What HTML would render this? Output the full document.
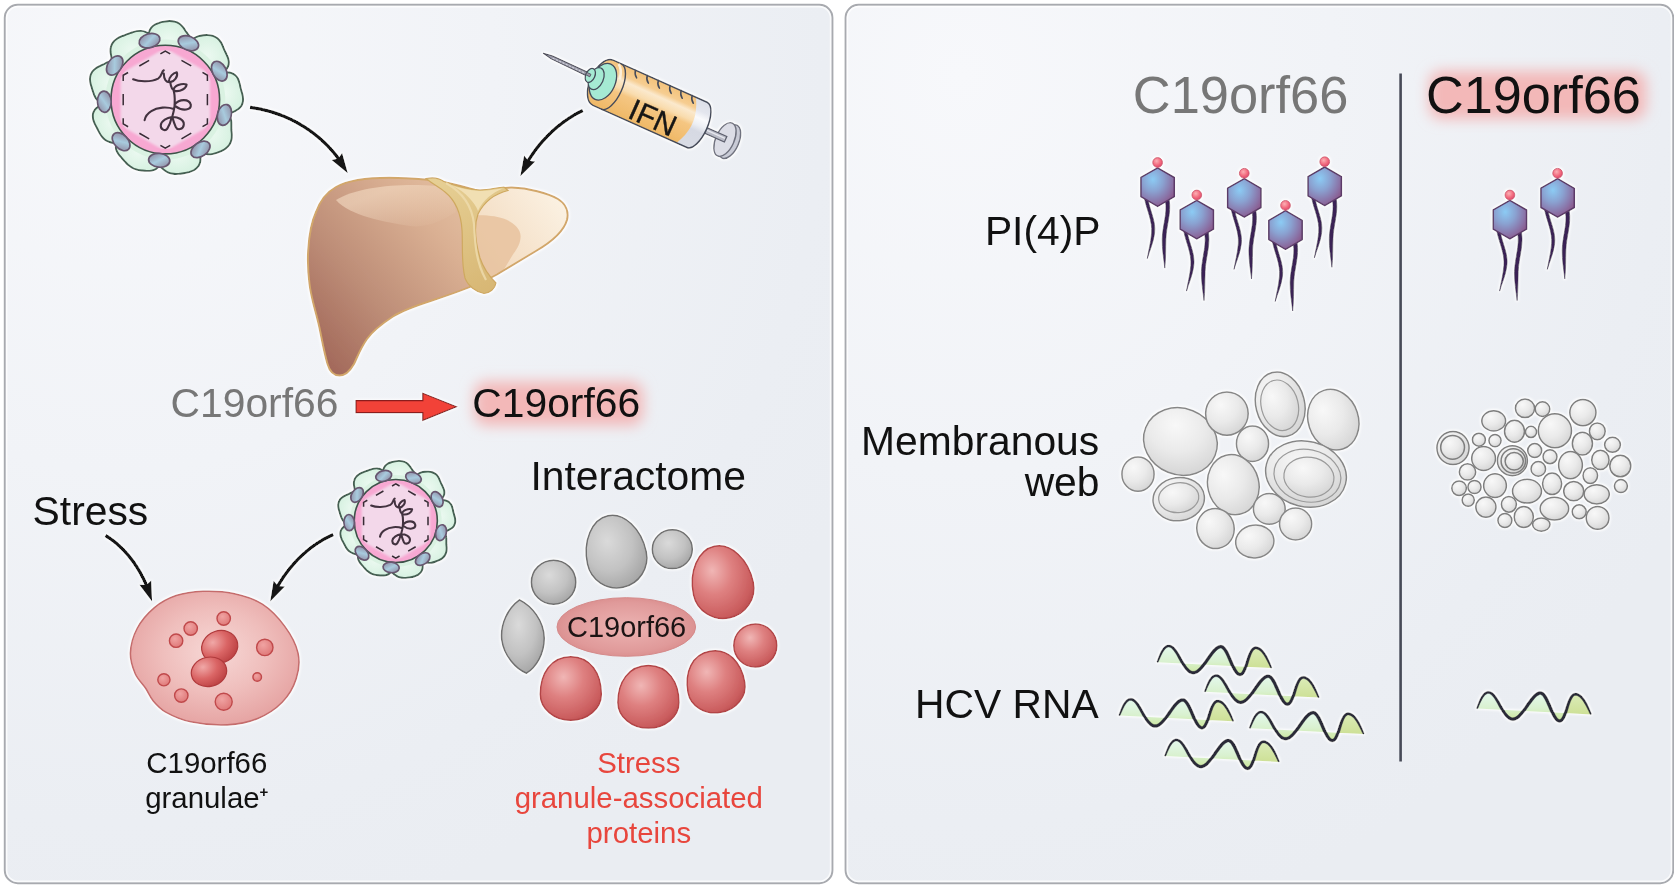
<!DOCTYPE html>
<html lang="en"><head><meta charset="utf-8"><title>C19orf66 graphical abstract</title>
<style>html,body{margin:0;padding:0;background:#fff;}body{width:1674px;height:886px;overflow:hidden;}svg{display:block;}svg text{opacity:0.999;}</style></head>
<body>
<svg width="1674" height="886" viewBox="0 0 1674 886" font-family="'Liberation Sans', Arial, Helvetica, sans-serif">
<defs>
<radialGradient id="panelL" cx="0.14" cy="0.08" r="1.0">
  <stop offset="0" stop-color="#f7f8fb"/><stop offset="0.45" stop-color="#f1f3f7"/><stop offset="0.85" stop-color="#ebeef3"/><stop offset="1" stop-color="#eaedf2"/>
</radialGradient>
<radialGradient id="panelR" cx="0.14" cy="0.08" r="1.0">
  <stop offset="0" stop-color="#f7f8fb"/><stop offset="0.45" stop-color="#f1f3f7"/><stop offset="0.85" stop-color="#ebeef3"/><stop offset="1" stop-color="#eaedf2"/>
</radialGradient>
<filter id="blur6" x="-20%" y="-40%" width="140%" height="180%"><feGaussianBlur stdDeviation="5"/></filter>
<filter id="blur7" x="-20%" y="-60%" width="140%" height="220%"><feGaussianBlur stdDeviation="7"/></filter>
<filter id="blur1" x="-10%" y="-10%" width="120%" height="120%"><feGaussianBlur stdDeviation="1.2"/></filter>
<filter id="blur4" x="-20%" y="-40%" width="140%" height="180%"><feGaussianBlur stdDeviation="4"/></filter>
<filter id="glowS" x="-20%" y="-20%" width="140%" height="140%">
  <feMorphology in="SourceAlpha" operator="dilate" radius="0.8" result="d"/>
  <feGaussianBlur in="d" stdDeviation="1.1" result="b"/>
  <feFlood flood-color="#ffffff" flood-opacity="0.8"/><feComposite in2="b" operator="in" result="g"/>
  <feMerge><feMergeNode in="g"/><feMergeNode in="SourceGraphic"/></feMerge>
</filter>
<filter id="glow" x="-30%" y="-30%" width="160%" height="160%">
  <feMorphology in="SourceAlpha" operator="dilate" radius="1.4" result="d"/>
  <feGaussianBlur in="d" stdDeviation="1.1" result="b"/>
  <feFlood flood-color="#ffffff" flood-opacity="1"/><feComposite in2="b" operator="in" result="g"/>
  <feMerge><feMergeNode in="g"/><feMergeNode in="SourceGraphic"/></feMerge>
</filter>


<radialGradient id="lobeG" cx="0.5" cy="0.5" r="0.6">
  <stop offset="0" stop-color="#ecf9f1"/><stop offset="1" stop-color="#d3f0de"/>
</radialGradient>
<linearGradient id="spikeG" x1="0" y1="0" x2="1" y2="1">
  <stop offset="0" stop-color="#8c8098"/><stop offset="0.5" stop-color="#a8cbde"/><stop offset="1" stop-color="#8a7e96"/>
</linearGradient>
<clipPath id="virClip"><circle r="49.4"/></clipPath>
<marker id="ah" viewBox="0 0 20 14" refX="17" refY="7" markerWidth="20" markerHeight="14" markerUnits="userSpaceOnUse" orient="auto">
  <path d="M0 0 L20 7 L0 14 Q5.5 7 0 0 Z" fill="#141414"/>
</marker>


<linearGradient id="liverG" gradientUnits="userSpaceOnUse" x1="520" y1="190" x2="320" y2="360">
  <stop offset="0" stop-color="#ecccae"/><stop offset="0.35" stop-color="#dab093"/>
  <stop offset="0.7" stop-color="#bd8d77"/><stop offset="1" stop-color="#a2685a"/>
</linearGradient>
<linearGradient id="liverHi" gradientUnits="userSpaceOnUse" x1="400" y1="185" x2="420" y2="235">
  <stop offset="0" stop-color="#f4dcc4" stop-opacity="0.6"/><stop offset="1" stop-color="#f4dcc4" stop-opacity="0"/>
</linearGradient>
<linearGradient id="lobeR" gradientUnits="userSpaceOnUse" x1="480" y1="260" x2="560" y2="200">
  <stop offset="0" stop-color="#f2d9bd"/><stop offset="1" stop-color="#fbf1e2"/>
</linearGradient>
<linearGradient id="ligG" gradientUnits="userSpaceOnUse" x1="440" y1="180" x2="500" y2="290">
  <stop offset="0" stop-color="#e6cf94"/><stop offset="1" stop-color="#d7b673"/>
</linearGradient>
<clipPath id="liverClip"><path id="liverPath" d="M336 187 C352 178 385 176 425 179.5 C445 181 462 186 477 190.5 C490 192.5 500 187 512 187.5 C528 188 548 193 558 199 C566 204 569 212 567 220 C563 234 548 244 536 251 C522 259.5 508 268 497 274.5 C480 284 452 294 432 300.5 C415 306 403 310 393 316.5 C380 325 372 332 367 339 C360 349 357 358 354 364 C350 371 345 375.5 339.5 375.5 C333 375.5 329.5 371 327.5 364 C324 352 322 340 319.5 328 C316 312 311 298 309.5 284 C308 272 307.5 261 308.2 250 C309 236 311 223 316 212 C320 201 327 192 336 187 Z"/></clipPath>


<linearGradient id="syrO" x1="0" y1="0" x2="0" y2="1">
  <stop offset="0" stop-color="#f3c27a"/><stop offset="0.2" stop-color="#f6cd91"/>
  <stop offset="0.30" stop-color="#fbe9cd"/><stop offset="0.46" stop-color="#f9dcae"/>
  <stop offset="0.56" stop-color="#f5c682"/><stop offset="1" stop-color="#efb866"/>
</linearGradient>
<linearGradient id="syrC" x1="0" y1="0" x2="0" y2="1">
  <stop offset="0" stop-color="#dcdfe8"/><stop offset="0.22" stop-color="#e4e6ee"/>
  <stop offset="0.36" stop-color="#fafafc"/><stop offset="0.5" stop-color="#eceef3"/>
  <stop offset="0.62" stop-color="#d6d9e3"/><stop offset="1" stop-color="#d9dce5"/>
</linearGradient>
<clipPath id="barrelClip"><path d="M0 -24.8 L103 -24.8 A10.5 24.8 0 0 1 103 24.8 L0 24.8 A13 24.8 0 0 1 0 -24.8 Z"/></clipPath>


<radialGradient id="cellG" cx="0.5" cy="0.45" r="0.62">
  <stop offset="0" stop-color="#f7d8d6"/><stop offset="0.5" stop-color="#efbebc"/><stop offset="0.88" stop-color="#e6a5a4"/><stop offset="1" stop-color="#df9797"/>
</radialGradient>
<radialGradient id="granG" cx="0.36" cy="0.3" r="0.8">
  <stop offset="0" stop-color="#f0a8a7"/><stop offset="0.5" stop-color="#da6565"/><stop offset="1" stop-color="#b83c3e"/>
</radialGradient>
<radialGradient id="granS" cx="0.4" cy="0.35" r="0.75">
  <stop offset="0" stop-color="#f0a3a2"/><stop offset="1" stop-color="#dd7474"/>
</radialGradient>


<radialGradient id="grayB" cx="0.4" cy="0.34" r="0.75">
  <stop offset="0" stop-color="#dadada"/><stop offset="0.55" stop-color="#c2c2c2"/><stop offset="1" stop-color="#a0a0a0"/>
</radialGradient>
<radialGradient id="redB" cx="0.38" cy="0.32" r="0.78">
  <stop offset="0" stop-color="#f0b6b5"/><stop offset="0.42" stop-color="#de8080"/><stop offset="0.82" stop-color="#cb5e5f"/><stop offset="1" stop-color="#b84a4c"/>
</radialGradient>
<radialGradient id="midB" cx="0.5" cy="0.5" r="0.6">
  <stop offset="0" stop-color="#ecb3b2"/><stop offset="0.7" stop-color="#e09a9a"/><stop offset="1" stop-color="#d68686"/>
</radialGradient>


<radialGradient id="hexG" cx="0.36" cy="0.3" r="0.78">
  <stop offset="0" stop-color="#8ccbf4"/><stop offset="0.4" stop-color="#8aa2d1"/><stop offset="0.75" stop-color="#8a74a8"/><stop offset="1" stop-color="#8a5486"/>
</radialGradient>
<radialGradient id="ballG" cx="0.4" cy="0.35" r="0.7">
  <stop offset="0" stop-color="#fbb0b4"/><stop offset="0.6" stop-color="#f2697d"/><stop offset="1" stop-color="#d6466a"/>
</radialGradient>


<radialGradient id="vesG" cx="0.36" cy="0.3" r="0.8">
  <stop offset="0" stop-color="#f8f8f8"/><stop offset="0.5" stop-color="#eaeaea"/><stop offset="1" stop-color="#d2d2d2"/>
</radialGradient>


<linearGradient id="waveG" x1="0" y1="0" x2="0" y2="1">
  <stop offset="0" stop-color="#e4f8ee"/><stop offset="0.55" stop-color="#d9f1cf"/><stop offset="1" stop-color="#cbe69a"/>
</linearGradient>
<linearGradient id="waveG3" x1="0" y1="0" x2="0" y2="1">
  <stop offset="0" stop-color="#dcedbb"/><stop offset="1" stop-color="#c9dc8b"/>
</linearGradient>

<clipPath id="wclipA"><path d="M-2 -20 L88 -20 L88 16 L-2 16 Z"/></clipPath>
<clipPath id="wclipB"><path d="M88 -20 L118 -20 L118 16 L88 16 Z"/></clipPath></defs>
<rect x="4.8" y="4.8" width="827.6" height="878.4" rx="13" ry="13" fill="url(#panelL)" stroke="#a8aaaf" stroke-width="2"/>
<rect x="6.6" y="6.6" width="824" height="874.8" rx="11.5" ry="11.5" fill="none" stroke="#ffffff" stroke-opacity="0.75" stroke-width="1.6"/>
<rect x="845.6" y="4.8" width="827.6" height="878.4" rx="13" ry="13" fill="url(#panelR)" stroke="#a8aaaf" stroke-width="2"/>
<rect x="847.4" y="6.6" width="824" height="874.8" rx="11.5" ry="11.5" fill="none" stroke="#ffffff" stroke-opacity="0.75" stroke-width="1.6"/>
<g filter="url(#glow)"><g transform="translate(165.3 99.6) scale(1) rotate(0)">
<path d="M27.3 -57.7 C27.5 -56.2 27.4 -54.5 26.9 -53.1 C26.5 -51.7 25.4 -50.3 24.3 -49.2 C23.2 -48 21.8 -47 20.5 -46.1 C19.1 -45.2 17.8 -44.4 16.4 -43.6 C15 -42.9 13.5 -42.1 12 -41.6 C10.5 -41.1 8.8 -40.7 7.2 -40.5 C5.5 -40.3 3.8 -40.4 2.1 -40.6 C0.5 -40.8 -1.1 -41.2 -2.7 -41.6 C-4.3 -41.9 -5.9 -42.3 -7.5 -42.8 C-9.1 -43.2 -10.9 -43.6 -12.5 -44.4 C-14.1 -45.1 -15.8 -46 -17 -47.1 C-18.2 -48.3 -19.2 -49.8 -19.7 -51.2 C-20.1 -52.7 -20 -54.4 -19.9 -55.8 C-19.7 -57.3 -19.1 -58.7 -18.7 -60.1 C-18.3 -61.4 -17.8 -62.6 -17.4 -63.9 C-17 -65.2 -16.8 -66.5 -16.2 -67.8 C-15.7 -69.1 -15.1 -70.5 -14.2 -71.7 C-13.3 -72.8 -12.1 -73.9 -10.7 -74.8 C-9.4 -75.7 -7.7 -76.3 -6.1 -76.8 C-4.5 -77.4 -2.8 -77.7 -1.1 -78 C0.6 -78.3 2.4 -78.6 4.1 -78.6 C5.9 -78.6 7.8 -78.5 9.5 -78 C11.1 -77.6 12.8 -76.8 14.2 -75.9 C15.6 -75 16.7 -73.7 17.7 -72.5 C18.7 -71.4 19.3 -70.1 20.1 -68.9 C21 -67.7 21.7 -66.7 22.6 -65.5 C23.5 -64.4 24.6 -63.2 25.3 -61.9 C26.1 -60.6 27 -59.1 27.3 -57.7 Z" fill="url(#lobeG)" stroke="#456052" stroke-width="1.9" stroke-linejoin="round"/>
<path d="M57.8 -27.6 C56.6 -26.7 55.2 -26 53.9 -25.3 C52.5 -24.6 51.2 -24 49.8 -23.5 C48.3 -23.1 46.8 -22.6 45.3 -22.5 C43.8 -22.5 42.2 -22.6 40.7 -22.9 C39.2 -23.3 37.7 -23.9 36.3 -24.5 C34.9 -25.1 33.5 -25.8 32.1 -26.5 C30.6 -27.2 29.1 -27.8 27.7 -28.7 C26.3 -29.6 24.7 -30.6 23.5 -31.8 C22.3 -33.1 21.2 -34.7 20.6 -36.3 C20 -37.9 19.9 -39.7 20 -41.4 C20.1 -43 20.7 -44.6 21.2 -46.1 C21.7 -47.5 22.3 -48.8 22.9 -50.1 C23.4 -51.5 23.8 -52.8 24.3 -54.1 C24.9 -55.4 25.4 -56.9 26.2 -58.1 C27 -59.4 28 -60.6 29.2 -61.5 C30.4 -62.4 31.8 -63 33.3 -63.5 C34.8 -64 36.3 -64.2 37.9 -64.4 C39.5 -64.5 41.1 -64.6 42.7 -64.5 C44.3 -64.4 46 -64.2 47.6 -63.7 C49.2 -63.1 50.8 -62.3 52.1 -61.3 C53.4 -60.3 54.6 -58.8 55.5 -57.5 C56.4 -56.1 57 -54.5 57.6 -53.1 C58.3 -51.7 58.7 -50.3 59.4 -48.9 C60 -47.6 60.8 -46.3 61.4 -44.8 C62.1 -43.3 62.9 -41.7 63.2 -40.1 C63.6 -38.5 63.7 -36.7 63.4 -35.1 C63.1 -33.5 62.3 -32 61.4 -30.7 C60.4 -29.5 59.1 -28.5 57.8 -27.6 Z" fill="url(#lobeG)" stroke="#456052" stroke-width="1.9" stroke-linejoin="round"/>
<path d="M61.8 14.3 C60.5 14.5 59.1 14.4 57.9 14.1 C56.6 13.8 55.3 13.2 54.1 12.6 C52.9 11.9 51.8 11.1 50.7 10.3 C49.6 9.6 48.4 8.8 47.3 7.9 C46.2 7 44.9 6.1 43.9 4.9 C42.9 3.7 41.8 2.3 41.3 0.8 C40.7 -0.8 40.4 -2.6 40.5 -4.3 C40.5 -5.9 41.1 -7.6 41.6 -9.1 C42.1 -10.6 42.9 -11.9 43.6 -13.2 C44.2 -14.5 44.8 -15.7 45.4 -17 C46 -18.3 46.6 -19.6 47.3 -20.8 C48.1 -22 48.9 -23.3 49.9 -24.3 C50.9 -25.2 52.2 -26 53.4 -26.5 C54.7 -27.1 56.1 -27.3 57.4 -27.4 C58.8 -27.6 60.2 -27.6 61.5 -27.4 C62.9 -27.3 64.4 -27.2 65.7 -26.7 C67 -26.2 68.5 -25.6 69.6 -24.7 C70.7 -23.7 71.8 -22.4 72.6 -21.1 C73.3 -19.7 73.8 -18.1 74.2 -16.6 C74.7 -15.1 74.8 -13.6 75.2 -12.2 C75.5 -10.8 75.9 -9.5 76.3 -8 C76.7 -6.6 77.2 -5.1 77.5 -3.5 C77.7 -1.9 77.9 -0.1 77.7 1.5 C77.5 3.1 76.9 4.8 76.2 6.1 C75.4 7.4 74.2 8.6 73.1 9.5 C71.9 10.4 70.6 11.1 69.4 11.7 C68.2 12.4 67 12.9 65.7 13.3 C64.4 13.8 63.1 14.2 61.8 14.3 Z" fill="url(#lobeG)" stroke="#456052" stroke-width="1.9" stroke-linejoin="round"/>
<path d="M35 51.1 C33.9 50.3 32.9 49.5 31.9 48.6 C30.8 47.6 29.6 46.8 28.7 45.7 C27.7 44.5 26.6 43.3 26.1 41.8 C25.5 40.3 25.2 38.5 25.4 36.8 C25.5 35.1 26.2 33.2 27 31.6 C27.8 29.9 29 28.4 30 27 C31 25.6 32.1 24.4 33.1 23.1 C34.1 21.9 34.9 20.6 36 19.3 C37 18 38.1 16.7 39.3 15.6 C40.6 14.5 42.1 13.5 43.5 12.8 C45 12.1 46.6 11.7 48.1 11.5 C49.7 11.2 51.2 11.2 52.7 11.3 C54.2 11.3 55.8 11.5 57.2 11.8 C58.6 12.2 60.2 12.6 61.4 13.5 C62.6 14.3 63.7 15.4 64.5 16.7 C65.3 18 65.7 19.6 65.9 21.2 C66.2 22.7 66.1 24.4 66.1 25.9 C66.1 27.4 66.1 28.8 66.1 30.3 C66.2 31.8 66.5 33.2 66.5 34.8 C66.5 36.4 66.6 38.2 66.2 39.9 C65.8 41.6 65.1 43.4 64.2 44.9 C63.2 46.4 61.8 47.8 60.4 48.9 C59.1 50 57.5 50.8 55.9 51.6 C54.4 52.3 52.9 52.8 51.4 53.3 C49.9 53.8 48.4 54.3 46.9 54.5 C45.4 54.7 43.9 54.9 42.4 54.7 C41 54.5 39.6 54 38.4 53.4 C37.2 52.8 36.1 51.9 35 51.1 Z" fill="url(#lobeG)" stroke="#456052" stroke-width="1.9" stroke-linejoin="round"/>
<path d="M-10.6 61.4 C-11.4 60.1 -12 58.5 -12 57 C-12 55.5 -11.5 53.8 -10.7 52.4 C-9.9 50.9 -8.5 49.6 -7.3 48.4 C-6 47.2 -4.5 46.2 -3.2 45.2 C-1.9 44.1 -0.8 43.2 0.5 42.2 C1.8 41.2 3 40.1 4.5 39.2 C5.9 38.3 7.5 37.4 9.2 36.8 C10.9 36.3 12.7 36 14.5 35.8 C16.3 35.7 18.1 35.8 19.8 36 C21.6 36.2 23.3 36.5 24.9 36.9 C26.6 37.3 28.4 37.8 29.8 38.5 C31.3 39.3 32.8 40.2 33.8 41.4 C34.8 42.5 35.5 44 35.8 45.4 C36.2 46.8 36 48.4 36 49.8 C35.9 51.2 35.5 52.5 35.4 53.9 C35.3 55.2 35.3 56.5 35.2 57.9 C35.1 59.3 35.3 60.8 34.9 62.3 C34.5 63.7 34 65.4 33 66.7 C32 68.1 30.5 69.4 29 70.4 C27.5 71.3 25.6 72 23.8 72.6 C22 73.1 20.2 73.4 18.4 73.7 C16.6 74 14.8 74.3 13.1 74.3 C11.3 74.4 9.6 74.5 7.9 74.2 C6.2 74 4.5 73.6 3.1 73 C1.6 72.4 0.4 71.5 -0.8 70.6 C-2.1 69.8 -3.1 68.8 -4.2 67.8 C-5.3 66.9 -6.5 66 -7.5 64.9 C-8.6 63.8 -9.9 62.7 -10.6 61.4 Z" fill="url(#lobeG)" stroke="#456052" stroke-width="1.9" stroke-linejoin="round"/>
<path d="M-46.7 41.7 C-45.7 40.7 -44.3 40 -43.1 39.2 C-41.9 38.4 -40.7 37.8 -39.6 37.2 C-38.4 36.5 -37.3 35.7 -36.1 35.1 C-34.8 34.5 -33.5 33.8 -32.1 33.4 C-30.6 33.1 -28.9 32.9 -27.3 33 C-25.7 33.1 -24 33.5 -22.3 34 C-20.7 34.4 -19 35.1 -17.4 35.7 C-15.8 36.4 -14.2 37.2 -12.7 38.1 C-11.2 39.1 -9.6 40.1 -8.4 41.4 C-7.3 42.6 -6.2 44.1 -5.6 45.5 C-5 47 -4.8 48.5 -4.8 50 C-4.7 51.4 -5 52.7 -5.1 54 C-5.2 55.3 -5.3 56.5 -5.4 57.8 C-5.4 59.1 -5.2 60.5 -5.4 61.9 C-5.6 63.3 -5.7 64.8 -6.3 66.1 C-7 67.3 -7.9 68.5 -9.2 69.4 C-10.4 70.2 -12 70.7 -13.6 71 C-15.2 71.3 -17 71.3 -18.6 71.3 C-20.3 71.3 -21.9 71.1 -23.6 70.9 C-25.2 70.7 -26.9 70.5 -28.5 70 C-30.1 69.5 -31.8 68.9 -33.2 68.1 C-34.7 67.3 -36 66.2 -37.3 65.2 C-38.5 64.1 -39.5 62.9 -40.6 61.8 C-41.7 60.6 -42.7 59.5 -43.7 58.2 C-44.8 57 -46 55.8 -46.9 54.4 C-47.8 53 -48.8 51.4 -49.2 49.9 C-49.6 48.4 -49.6 46.7 -49.2 45.4 C-48.8 44 -47.8 42.8 -46.7 41.7 Z" fill="url(#lobeG)" stroke="#456052" stroke-width="1.9" stroke-linejoin="round"/>
<path d="M-60.5 3.3 C-59.4 2.7 -58.3 2 -57 1.6 C-55.8 1.2 -54.4 0.9 -53 0.9 C-51.7 1 -50.2 1.4 -48.8 1.9 C-47.5 2.4 -46.1 3.2 -44.8 4 C-43.5 4.8 -42.2 5.7 -41 6.8 C-39.8 7.8 -38.5 9 -37.5 10.3 C-36.5 11.7 -35.5 13.3 -35 14.9 C-34.5 16.5 -34.2 18.3 -34.2 19.9 C-34.2 21.5 -34.6 23.1 -34.9 24.6 C-35.1 26.1 -35.5 27.4 -35.8 28.8 C-36.1 30.2 -36.2 31.6 -36.4 33 C-36.7 34.5 -36.9 36.2 -37.4 37.6 C-37.9 39 -38.7 40.5 -39.7 41.6 C-40.7 42.6 -42 43.4 -43.3 43.8 C-44.7 44.2 -46.2 44.2 -47.6 44.2 C-49.1 44.1 -50.5 43.9 -51.9 43.5 C-53.3 43.2 -54.7 42.9 -56.1 42.3 C-57.4 41.8 -58.8 41.2 -60 40.3 C-61.2 39.4 -62.4 38.2 -63.4 37 C-64.4 35.8 -65.2 34.4 -66 33 C-66.8 31.7 -67.4 30.3 -68.1 28.9 C-68.9 27.5 -69.7 26.1 -70.4 24.6 C-71 23.1 -71.8 21.4 -72.2 19.7 C-72.5 18 -72.7 16.1 -72.4 14.5 C-72.2 12.9 -71.4 11.4 -70.5 10.1 C-69.7 8.9 -68.4 8 -67.3 7.2 C-66.1 6.4 -64.9 5.9 -63.8 5.2 C-62.7 4.6 -61.7 3.9 -60.5 3.3 Z" fill="url(#lobeG)" stroke="#456052" stroke-width="1.9" stroke-linejoin="round"/>
<path d="M-49 -38.1 C-47.6 -37.7 -46.3 -37 -45.1 -36.3 C-43.9 -35.6 -42.7 -34.7 -41.6 -33.7 C-40.5 -32.8 -39.3 -31.7 -38.4 -30.5 C-37.5 -29.2 -36.6 -27.8 -36.2 -26.3 C-35.7 -24.7 -35.5 -22.9 -35.6 -21.2 C-35.7 -19.6 -36.3 -17.8 -36.8 -16.2 C-37.4 -14.7 -38.2 -13.3 -38.8 -11.9 C-39.4 -10.4 -39.9 -9.1 -40.5 -7.7 C-41.1 -6.2 -41.5 -4.6 -42.2 -3.2 C-42.9 -1.7 -43.7 0 -44.8 1.2 C-45.9 2.5 -47.3 3.6 -48.7 4.3 C-50.2 5 -51.8 5.2 -53.3 5.4 C-54.8 5.5 -56.3 5.2 -57.7 5 C-59.1 4.8 -60.5 4.4 -61.9 4 C-63.2 3.5 -64.6 3 -65.7 2.2 C-66.9 1.5 -68.1 0.5 -69 -0.6 C-69.9 -1.8 -70.5 -3.2 -71.1 -4.5 C-71.7 -5.9 -72.1 -7.3 -72.6 -8.7 C-73.1 -10.1 -73.5 -11.5 -73.9 -13 C-74.4 -14.5 -74.9 -16 -75.1 -17.7 C-75.3 -19.4 -75.5 -21.3 -75.1 -23 C-74.8 -24.7 -74 -26.5 -73.1 -27.9 C-72.1 -29.3 -70.7 -30.4 -69.4 -31.4 C-68.1 -32.4 -66.6 -33 -65.2 -33.7 C-63.9 -34.4 -62.6 -34.9 -61.3 -35.5 C-60 -36.2 -58.8 -36.9 -57.5 -37.4 C-56.1 -37.9 -54.7 -38.4 -53.3 -38.5 C-51.8 -38.6 -50.4 -38.5 -49 -38.1 Z" fill="url(#lobeG)" stroke="#456052" stroke-width="1.9" stroke-linejoin="round"/>
<path d="M-12.5 -62.7 C-11.6 -61.7 -10.6 -60.5 -10.1 -59.2 C-9.6 -57.9 -9.3 -56.4 -9.5 -54.8 C-9.7 -53.3 -10.3 -51.6 -11.1 -50.1 C-11.8 -48.6 -13 -47.2 -14 -45.8 C-15 -44.5 -16 -43.3 -16.9 -42 C-17.8 -40.7 -18.5 -39.3 -19.5 -38 C-20.5 -36.6 -21.5 -35 -22.8 -33.8 C-24.1 -32.5 -25.6 -31.2 -27.3 -30.3 C-28.9 -29.4 -30.8 -28.9 -32.5 -28.5 C-34.3 -28.2 -36 -28.3 -37.6 -28.4 C-39.3 -28.5 -40.8 -28.8 -42.3 -29.1 C-43.8 -29.4 -45.2 -29.8 -46.5 -30.4 C-47.8 -31 -49.1 -31.7 -50.1 -32.6 C-51 -33.5 -51.8 -34.7 -52.3 -35.9 C-52.9 -37.1 -53.1 -38.4 -53.4 -39.7 C-53.7 -41 -53.9 -42.3 -54.1 -43.6 C-54.3 -44.9 -54.7 -46.3 -54.8 -47.7 C-54.8 -49.2 -55 -50.8 -54.5 -52.4 C-54.1 -54 -53.4 -55.8 -52.3 -57.2 C-51.2 -58.7 -49.6 -60 -48 -61.1 C-46.4 -62.2 -44.6 -62.9 -42.9 -63.6 C-41.2 -64.3 -39.6 -64.8 -38 -65.4 C-36.5 -65.9 -35 -66.6 -33.4 -67.1 C-31.8 -67.6 -30.2 -68.2 -28.6 -68.5 C-26.9 -68.7 -25.2 -68.9 -23.7 -68.7 C-22.2 -68.6 -20.7 -68.1 -19.4 -67.5 C-18.1 -67 -16.9 -66.2 -15.7 -65.4 C-14.6 -64.6 -13.5 -63.7 -12.5 -62.7 Z" fill="url(#lobeG)" stroke="#456052" stroke-width="1.9" stroke-linejoin="round"/>
<circle r="60" fill="#daf2e2"/>
<circle r="54.3" fill="#f7a8d2" stroke="#3e5249" stroke-width="1.6"/>
<polygon points="0,-51.6 44.7,-25.8 44.7,25.8 0,51.6 -44.7,25.8 -44.7,-25.8" fill="#f3d8ea" filter="url(#blur1)" clip-path="url(#virClip)"/>
<path d="M0 -48.6 L42.1 -24.3 L42.1 24.3 L0 48.6 L-42.1 24.3 L-42.1 -24.3 Z" fill="none" stroke="#382c36" stroke-width="1.5" stroke-dasharray="11.3 13" stroke-dashoffset="5.65" stroke-linejoin="miter"/>
<path d="M-32.2 -20.3 C-26 -17.5 -14 -17.5 -7.2 -21 C-3 -23.5 -4 -28 -1.5 -29.3 M-1.5 -26 C-1.5 -20 1 -17 5 -17.5 C9 -18 13 -23 11.5 -27.3 C8 -26.5 3.5 -23 3.7 -18 M5 -17.5 C5.5 -12 7 -9 10.4 -8.5 C15 -8 21 -11 21.3 -15.2 C16 -16.5 9 -14 8 -9.5 M8 -10 C10 -5 9.5 0 9.3 5 C14 -1 24 -1 25.5 5.2 C26 10 18 12.5 10 6.5 M9.3 4 C9.5 9 8 13 6.8 17.5 C12 17 19 20 18.5 25 C18 30 12 31 10.5 27.5 C9 24 8 21 7 17.5 M6.5 17.5 C2 18 -4 21 -4.5 25.5 C-5 30 0 32 2 29 C4 26 5.5 22 6.5 17.5 M8.5 9.5 C2 7 -8 7.5 -14 11.5 C-18 14 -20 17 -20.7 20.5" fill="none" stroke="#43333f" stroke-width="2.1" stroke-linecap="round" stroke-linejoin="round"/>
<ellipse cx="-15.8" cy="-58.9" rx="10.6" ry="6.9" transform="rotate(-15 -15.8 -58.9)" fill="url(#spikeG)" stroke="#67566f" stroke-width="1.7"/>
<ellipse cx="23.1" cy="-56.4" rx="10.6" ry="6.9" transform="rotate(22.3 23.1 -56.4)" fill="url(#spikeG)" stroke="#67566f" stroke-width="1.7"/>
<ellipse cx="54" cy="-28.4" rx="10.6" ry="6.9" transform="rotate(62.2 54 -28.4)" fill="url(#spikeG)" stroke="#67566f" stroke-width="1.7"/>
<ellipse cx="59.1" cy="15.3" rx="10.6" ry="6.9" transform="rotate(104.5 59.1 15.3)" fill="url(#spikeG)" stroke="#67566f" stroke-width="1.7"/>
<ellipse cx="35.2" cy="49.8" rx="10.6" ry="6.9" transform="rotate(144.7 35.2 49.8)" fill="url(#spikeG)" stroke="#67566f" stroke-width="1.7"/>
<ellipse cx="-6.1" cy="60.7" rx="10.6" ry="6.9" transform="rotate(185.7 -6.1 60.7)" fill="url(#spikeG)" stroke="#67566f" stroke-width="1.7"/>
<ellipse cx="-44.2" cy="42.1" rx="10.6" ry="6.9" transform="rotate(226.4 -44.2 42.1)" fill="url(#spikeG)" stroke="#67566f" stroke-width="1.7"/>
<ellipse cx="-61" cy="2.1" rx="10.6" ry="6.9" transform="rotate(268 -61 2.1)" fill="url(#spikeG)" stroke="#67566f" stroke-width="1.7"/>
<ellipse cx="-50.6" cy="-34.1" rx="10.6" ry="6.9" transform="rotate(304 -50.6 -34.1)" fill="url(#spikeG)" stroke="#67566f" stroke-width="1.7"/>
</g></g>
<g filter="url(#glow)"><g transform="translate(395.8 521) scale(0.765) rotate(0)">
<path d="M27.3 -57.7 C27.5 -56.2 27.4 -54.5 26.9 -53.1 C26.5 -51.7 25.4 -50.3 24.3 -49.2 C23.2 -48 21.8 -47 20.5 -46.1 C19.1 -45.2 17.8 -44.4 16.4 -43.6 C15 -42.9 13.5 -42.1 12 -41.6 C10.5 -41.1 8.8 -40.7 7.2 -40.5 C5.5 -40.3 3.8 -40.4 2.1 -40.6 C0.5 -40.8 -1.1 -41.2 -2.7 -41.6 C-4.3 -41.9 -5.9 -42.3 -7.5 -42.8 C-9.1 -43.2 -10.9 -43.6 -12.5 -44.4 C-14.1 -45.1 -15.8 -46 -17 -47.1 C-18.2 -48.3 -19.2 -49.8 -19.7 -51.2 C-20.1 -52.7 -20 -54.4 -19.9 -55.8 C-19.7 -57.3 -19.1 -58.7 -18.7 -60.1 C-18.3 -61.4 -17.8 -62.6 -17.4 -63.9 C-17 -65.2 -16.8 -66.5 -16.2 -67.8 C-15.7 -69.1 -15.1 -70.5 -14.2 -71.7 C-13.3 -72.8 -12.1 -73.9 -10.7 -74.8 C-9.4 -75.7 -7.7 -76.3 -6.1 -76.8 C-4.5 -77.4 -2.8 -77.7 -1.1 -78 C0.6 -78.3 2.4 -78.6 4.1 -78.6 C5.9 -78.6 7.8 -78.5 9.5 -78 C11.1 -77.6 12.8 -76.8 14.2 -75.9 C15.6 -75 16.7 -73.7 17.7 -72.5 C18.7 -71.4 19.3 -70.1 20.1 -68.9 C21 -67.7 21.7 -66.7 22.6 -65.5 C23.5 -64.4 24.6 -63.2 25.3 -61.9 C26.1 -60.6 27 -59.1 27.3 -57.7 Z" fill="url(#lobeG)" stroke="#456052" stroke-width="2.5" stroke-linejoin="round"/>
<path d="M57.8 -27.6 C56.6 -26.7 55.2 -26 53.9 -25.3 C52.5 -24.6 51.2 -24 49.8 -23.5 C48.3 -23.1 46.8 -22.6 45.3 -22.5 C43.8 -22.5 42.2 -22.6 40.7 -22.9 C39.2 -23.3 37.7 -23.9 36.3 -24.5 C34.9 -25.1 33.5 -25.8 32.1 -26.5 C30.6 -27.2 29.1 -27.8 27.7 -28.7 C26.3 -29.6 24.7 -30.6 23.5 -31.8 C22.3 -33.1 21.2 -34.7 20.6 -36.3 C20 -37.9 19.9 -39.7 20 -41.4 C20.1 -43 20.7 -44.6 21.2 -46.1 C21.7 -47.5 22.3 -48.8 22.9 -50.1 C23.4 -51.5 23.8 -52.8 24.3 -54.1 C24.9 -55.4 25.4 -56.9 26.2 -58.1 C27 -59.4 28 -60.6 29.2 -61.5 C30.4 -62.4 31.8 -63 33.3 -63.5 C34.8 -64 36.3 -64.2 37.9 -64.4 C39.5 -64.5 41.1 -64.6 42.7 -64.5 C44.3 -64.4 46 -64.2 47.6 -63.7 C49.2 -63.1 50.8 -62.3 52.1 -61.3 C53.4 -60.3 54.6 -58.8 55.5 -57.5 C56.4 -56.1 57 -54.5 57.6 -53.1 C58.3 -51.7 58.7 -50.3 59.4 -48.9 C60 -47.6 60.8 -46.3 61.4 -44.8 C62.1 -43.3 62.9 -41.7 63.2 -40.1 C63.6 -38.5 63.7 -36.7 63.4 -35.1 C63.1 -33.5 62.3 -32 61.4 -30.7 C60.4 -29.5 59.1 -28.5 57.8 -27.6 Z" fill="url(#lobeG)" stroke="#456052" stroke-width="2.5" stroke-linejoin="round"/>
<path d="M61.8 14.3 C60.5 14.5 59.1 14.4 57.9 14.1 C56.6 13.8 55.3 13.2 54.1 12.6 C52.9 11.9 51.8 11.1 50.7 10.3 C49.6 9.6 48.4 8.8 47.3 7.9 C46.2 7 44.9 6.1 43.9 4.9 C42.9 3.7 41.8 2.3 41.3 0.8 C40.7 -0.8 40.4 -2.6 40.5 -4.3 C40.5 -5.9 41.1 -7.6 41.6 -9.1 C42.1 -10.6 42.9 -11.9 43.6 -13.2 C44.2 -14.5 44.8 -15.7 45.4 -17 C46 -18.3 46.6 -19.6 47.3 -20.8 C48.1 -22 48.9 -23.3 49.9 -24.3 C50.9 -25.2 52.2 -26 53.4 -26.5 C54.7 -27.1 56.1 -27.3 57.4 -27.4 C58.8 -27.6 60.2 -27.6 61.5 -27.4 C62.9 -27.3 64.4 -27.2 65.7 -26.7 C67 -26.2 68.5 -25.6 69.6 -24.7 C70.7 -23.7 71.8 -22.4 72.6 -21.1 C73.3 -19.7 73.8 -18.1 74.2 -16.6 C74.7 -15.1 74.8 -13.6 75.2 -12.2 C75.5 -10.8 75.9 -9.5 76.3 -8 C76.7 -6.6 77.2 -5.1 77.5 -3.5 C77.7 -1.9 77.9 -0.1 77.7 1.5 C77.5 3.1 76.9 4.8 76.2 6.1 C75.4 7.4 74.2 8.6 73.1 9.5 C71.9 10.4 70.6 11.1 69.4 11.7 C68.2 12.4 67 12.9 65.7 13.3 C64.4 13.8 63.1 14.2 61.8 14.3 Z" fill="url(#lobeG)" stroke="#456052" stroke-width="2.5" stroke-linejoin="round"/>
<path d="M35 51.1 C33.9 50.3 32.9 49.5 31.9 48.6 C30.8 47.6 29.6 46.8 28.7 45.7 C27.7 44.5 26.6 43.3 26.1 41.8 C25.5 40.3 25.2 38.5 25.4 36.8 C25.5 35.1 26.2 33.2 27 31.6 C27.8 29.9 29 28.4 30 27 C31 25.6 32.1 24.4 33.1 23.1 C34.1 21.9 34.9 20.6 36 19.3 C37 18 38.1 16.7 39.3 15.6 C40.6 14.5 42.1 13.5 43.5 12.8 C45 12.1 46.6 11.7 48.1 11.5 C49.7 11.2 51.2 11.2 52.7 11.3 C54.2 11.3 55.8 11.5 57.2 11.8 C58.6 12.2 60.2 12.6 61.4 13.5 C62.6 14.3 63.7 15.4 64.5 16.7 C65.3 18 65.7 19.6 65.9 21.2 C66.2 22.7 66.1 24.4 66.1 25.9 C66.1 27.4 66.1 28.8 66.1 30.3 C66.2 31.8 66.5 33.2 66.5 34.8 C66.5 36.4 66.6 38.2 66.2 39.9 C65.8 41.6 65.1 43.4 64.2 44.9 C63.2 46.4 61.8 47.8 60.4 48.9 C59.1 50 57.5 50.8 55.9 51.6 C54.4 52.3 52.9 52.8 51.4 53.3 C49.9 53.8 48.4 54.3 46.9 54.5 C45.4 54.7 43.9 54.9 42.4 54.7 C41 54.5 39.6 54 38.4 53.4 C37.2 52.8 36.1 51.9 35 51.1 Z" fill="url(#lobeG)" stroke="#456052" stroke-width="2.5" stroke-linejoin="round"/>
<path d="M-10.6 61.4 C-11.4 60.1 -12 58.5 -12 57 C-12 55.5 -11.5 53.8 -10.7 52.4 C-9.9 50.9 -8.5 49.6 -7.3 48.4 C-6 47.2 -4.5 46.2 -3.2 45.2 C-1.9 44.1 -0.8 43.2 0.5 42.2 C1.8 41.2 3 40.1 4.5 39.2 C5.9 38.3 7.5 37.4 9.2 36.8 C10.9 36.3 12.7 36 14.5 35.8 C16.3 35.7 18.1 35.8 19.8 36 C21.6 36.2 23.3 36.5 24.9 36.9 C26.6 37.3 28.4 37.8 29.8 38.5 C31.3 39.3 32.8 40.2 33.8 41.4 C34.8 42.5 35.5 44 35.8 45.4 C36.2 46.8 36 48.4 36 49.8 C35.9 51.2 35.5 52.5 35.4 53.9 C35.3 55.2 35.3 56.5 35.2 57.9 C35.1 59.3 35.3 60.8 34.9 62.3 C34.5 63.7 34 65.4 33 66.7 C32 68.1 30.5 69.4 29 70.4 C27.5 71.3 25.6 72 23.8 72.6 C22 73.1 20.2 73.4 18.4 73.7 C16.6 74 14.8 74.3 13.1 74.3 C11.3 74.4 9.6 74.5 7.9 74.2 C6.2 74 4.5 73.6 3.1 73 C1.6 72.4 0.4 71.5 -0.8 70.6 C-2.1 69.8 -3.1 68.8 -4.2 67.8 C-5.3 66.9 -6.5 66 -7.5 64.9 C-8.6 63.8 -9.9 62.7 -10.6 61.4 Z" fill="url(#lobeG)" stroke="#456052" stroke-width="2.5" stroke-linejoin="round"/>
<path d="M-46.7 41.7 C-45.7 40.7 -44.3 40 -43.1 39.2 C-41.9 38.4 -40.7 37.8 -39.6 37.2 C-38.4 36.5 -37.3 35.7 -36.1 35.1 C-34.8 34.5 -33.5 33.8 -32.1 33.4 C-30.6 33.1 -28.9 32.9 -27.3 33 C-25.7 33.1 -24 33.5 -22.3 34 C-20.7 34.4 -19 35.1 -17.4 35.7 C-15.8 36.4 -14.2 37.2 -12.7 38.1 C-11.2 39.1 -9.6 40.1 -8.4 41.4 C-7.3 42.6 -6.2 44.1 -5.6 45.5 C-5 47 -4.8 48.5 -4.8 50 C-4.7 51.4 -5 52.7 -5.1 54 C-5.2 55.3 -5.3 56.5 -5.4 57.8 C-5.4 59.1 -5.2 60.5 -5.4 61.9 C-5.6 63.3 -5.7 64.8 -6.3 66.1 C-7 67.3 -7.9 68.5 -9.2 69.4 C-10.4 70.2 -12 70.7 -13.6 71 C-15.2 71.3 -17 71.3 -18.6 71.3 C-20.3 71.3 -21.9 71.1 -23.6 70.9 C-25.2 70.7 -26.9 70.5 -28.5 70 C-30.1 69.5 -31.8 68.9 -33.2 68.1 C-34.7 67.3 -36 66.2 -37.3 65.2 C-38.5 64.1 -39.5 62.9 -40.6 61.8 C-41.7 60.6 -42.7 59.5 -43.7 58.2 C-44.8 57 -46 55.8 -46.9 54.4 C-47.8 53 -48.8 51.4 -49.2 49.9 C-49.6 48.4 -49.6 46.7 -49.2 45.4 C-48.8 44 -47.8 42.8 -46.7 41.7 Z" fill="url(#lobeG)" stroke="#456052" stroke-width="2.5" stroke-linejoin="round"/>
<path d="M-60.5 3.3 C-59.4 2.7 -58.3 2 -57 1.6 C-55.8 1.2 -54.4 0.9 -53 0.9 C-51.7 1 -50.2 1.4 -48.8 1.9 C-47.5 2.4 -46.1 3.2 -44.8 4 C-43.5 4.8 -42.2 5.7 -41 6.8 C-39.8 7.8 -38.5 9 -37.5 10.3 C-36.5 11.7 -35.5 13.3 -35 14.9 C-34.5 16.5 -34.2 18.3 -34.2 19.9 C-34.2 21.5 -34.6 23.1 -34.9 24.6 C-35.1 26.1 -35.5 27.4 -35.8 28.8 C-36.1 30.2 -36.2 31.6 -36.4 33 C-36.7 34.5 -36.9 36.2 -37.4 37.6 C-37.9 39 -38.7 40.5 -39.7 41.6 C-40.7 42.6 -42 43.4 -43.3 43.8 C-44.7 44.2 -46.2 44.2 -47.6 44.2 C-49.1 44.1 -50.5 43.9 -51.9 43.5 C-53.3 43.2 -54.7 42.9 -56.1 42.3 C-57.4 41.8 -58.8 41.2 -60 40.3 C-61.2 39.4 -62.4 38.2 -63.4 37 C-64.4 35.8 -65.2 34.4 -66 33 C-66.8 31.7 -67.4 30.3 -68.1 28.9 C-68.9 27.5 -69.7 26.1 -70.4 24.6 C-71 23.1 -71.8 21.4 -72.2 19.7 C-72.5 18 -72.7 16.1 -72.4 14.5 C-72.2 12.9 -71.4 11.4 -70.5 10.1 C-69.7 8.9 -68.4 8 -67.3 7.2 C-66.1 6.4 -64.9 5.9 -63.8 5.2 C-62.7 4.6 -61.7 3.9 -60.5 3.3 Z" fill="url(#lobeG)" stroke="#456052" stroke-width="2.5" stroke-linejoin="round"/>
<path d="M-49 -38.1 C-47.6 -37.7 -46.3 -37 -45.1 -36.3 C-43.9 -35.6 -42.7 -34.7 -41.6 -33.7 C-40.5 -32.8 -39.3 -31.7 -38.4 -30.5 C-37.5 -29.2 -36.6 -27.8 -36.2 -26.3 C-35.7 -24.7 -35.5 -22.9 -35.6 -21.2 C-35.7 -19.6 -36.3 -17.8 -36.8 -16.2 C-37.4 -14.7 -38.2 -13.3 -38.8 -11.9 C-39.4 -10.4 -39.9 -9.1 -40.5 -7.7 C-41.1 -6.2 -41.5 -4.6 -42.2 -3.2 C-42.9 -1.7 -43.7 0 -44.8 1.2 C-45.9 2.5 -47.3 3.6 -48.7 4.3 C-50.2 5 -51.8 5.2 -53.3 5.4 C-54.8 5.5 -56.3 5.2 -57.7 5 C-59.1 4.8 -60.5 4.4 -61.9 4 C-63.2 3.5 -64.6 3 -65.7 2.2 C-66.9 1.5 -68.1 0.5 -69 -0.6 C-69.9 -1.8 -70.5 -3.2 -71.1 -4.5 C-71.7 -5.9 -72.1 -7.3 -72.6 -8.7 C-73.1 -10.1 -73.5 -11.5 -73.9 -13 C-74.4 -14.5 -74.9 -16 -75.1 -17.7 C-75.3 -19.4 -75.5 -21.3 -75.1 -23 C-74.8 -24.7 -74 -26.5 -73.1 -27.9 C-72.1 -29.3 -70.7 -30.4 -69.4 -31.4 C-68.1 -32.4 -66.6 -33 -65.2 -33.7 C-63.9 -34.4 -62.6 -34.9 -61.3 -35.5 C-60 -36.2 -58.8 -36.9 -57.5 -37.4 C-56.1 -37.9 -54.7 -38.4 -53.3 -38.5 C-51.8 -38.6 -50.4 -38.5 -49 -38.1 Z" fill="url(#lobeG)" stroke="#456052" stroke-width="2.5" stroke-linejoin="round"/>
<path d="M-12.5 -62.7 C-11.6 -61.7 -10.6 -60.5 -10.1 -59.2 C-9.6 -57.9 -9.3 -56.4 -9.5 -54.8 C-9.7 -53.3 -10.3 -51.6 -11.1 -50.1 C-11.8 -48.6 -13 -47.2 -14 -45.8 C-15 -44.5 -16 -43.3 -16.9 -42 C-17.8 -40.7 -18.5 -39.3 -19.5 -38 C-20.5 -36.6 -21.5 -35 -22.8 -33.8 C-24.1 -32.5 -25.6 -31.2 -27.3 -30.3 C-28.9 -29.4 -30.8 -28.9 -32.5 -28.5 C-34.3 -28.2 -36 -28.3 -37.6 -28.4 C-39.3 -28.5 -40.8 -28.8 -42.3 -29.1 C-43.8 -29.4 -45.2 -29.8 -46.5 -30.4 C-47.8 -31 -49.1 -31.7 -50.1 -32.6 C-51 -33.5 -51.8 -34.7 -52.3 -35.9 C-52.9 -37.1 -53.1 -38.4 -53.4 -39.7 C-53.7 -41 -53.9 -42.3 -54.1 -43.6 C-54.3 -44.9 -54.7 -46.3 -54.8 -47.7 C-54.8 -49.2 -55 -50.8 -54.5 -52.4 C-54.1 -54 -53.4 -55.8 -52.3 -57.2 C-51.2 -58.7 -49.6 -60 -48 -61.1 C-46.4 -62.2 -44.6 -62.9 -42.9 -63.6 C-41.2 -64.3 -39.6 -64.8 -38 -65.4 C-36.5 -65.9 -35 -66.6 -33.4 -67.1 C-31.8 -67.6 -30.2 -68.2 -28.6 -68.5 C-26.9 -68.7 -25.2 -68.9 -23.7 -68.7 C-22.2 -68.6 -20.7 -68.1 -19.4 -67.5 C-18.1 -67 -16.9 -66.2 -15.7 -65.4 C-14.6 -64.6 -13.5 -63.7 -12.5 -62.7 Z" fill="url(#lobeG)" stroke="#456052" stroke-width="2.5" stroke-linejoin="round"/>
<circle r="60" fill="#daf2e2"/>
<circle r="54.3" fill="#f7a8d2" stroke="#3e5249" stroke-width="2.1"/>
<polygon points="0,-51.6 44.7,-25.8 44.7,25.8 0,51.6 -44.7,25.8 -44.7,-25.8" fill="#f3d8ea" filter="url(#blur1)" clip-path="url(#virClip)"/>
<path d="M0 -48.6 L42.1 -24.3 L42.1 24.3 L0 48.6 L-42.1 24.3 L-42.1 -24.3 Z" fill="none" stroke="#382c36" stroke-width="2" stroke-dasharray="11.3 13" stroke-dashoffset="5.65" stroke-linejoin="miter"/>
<path d="M-32.2 -20.3 C-26 -17.5 -14 -17.5 -7.2 -21 C-3 -23.5 -4 -28 -1.5 -29.3 M-1.5 -26 C-1.5 -20 1 -17 5 -17.5 C9 -18 13 -23 11.5 -27.3 C8 -26.5 3.5 -23 3.7 -18 M5 -17.5 C5.5 -12 7 -9 10.4 -8.5 C15 -8 21 -11 21.3 -15.2 C16 -16.5 9 -14 8 -9.5 M8 -10 C10 -5 9.5 0 9.3 5 C14 -1 24 -1 25.5 5.2 C26 10 18 12.5 10 6.5 M9.3 4 C9.5 9 8 13 6.8 17.5 C12 17 19 20 18.5 25 C18 30 12 31 10.5 27.5 C9 24 8 21 7 17.5 M6.5 17.5 C2 18 -4 21 -4.5 25.5 C-5 30 0 32 2 29 C4 26 5.5 22 6.5 17.5 M8.5 9.5 C2 7 -8 7.5 -14 11.5 C-18 14 -20 17 -20.7 20.5" fill="none" stroke="#43333f" stroke-width="2.7" stroke-linecap="round" stroke-linejoin="round"/>
<ellipse cx="-15.8" cy="-58.9" rx="10.6" ry="6.9" transform="rotate(-15 -15.8 -58.9)" fill="url(#spikeG)" stroke="#67566f" stroke-width="2.2"/>
<ellipse cx="23.1" cy="-56.4" rx="10.6" ry="6.9" transform="rotate(22.3 23.1 -56.4)" fill="url(#spikeG)" stroke="#67566f" stroke-width="2.2"/>
<ellipse cx="54" cy="-28.4" rx="10.6" ry="6.9" transform="rotate(62.2 54 -28.4)" fill="url(#spikeG)" stroke="#67566f" stroke-width="2.2"/>
<ellipse cx="59.1" cy="15.3" rx="10.6" ry="6.9" transform="rotate(104.5 59.1 15.3)" fill="url(#spikeG)" stroke="#67566f" stroke-width="2.2"/>
<ellipse cx="35.2" cy="49.8" rx="10.6" ry="6.9" transform="rotate(144.7 35.2 49.8)" fill="url(#spikeG)" stroke="#67566f" stroke-width="2.2"/>
<ellipse cx="-6.1" cy="60.7" rx="10.6" ry="6.9" transform="rotate(185.7 -6.1 60.7)" fill="url(#spikeG)" stroke="#67566f" stroke-width="2.2"/>
<ellipse cx="-44.2" cy="42.1" rx="10.6" ry="6.9" transform="rotate(226.4 -44.2 42.1)" fill="url(#spikeG)" stroke="#67566f" stroke-width="2.2"/>
<ellipse cx="-61" cy="2.1" rx="10.6" ry="6.9" transform="rotate(268 -61 2.1)" fill="url(#spikeG)" stroke="#67566f" stroke-width="2.2"/>
<ellipse cx="-50.6" cy="-34.1" rx="10.6" ry="6.9" transform="rotate(304 -50.6 -34.1)" fill="url(#spikeG)" stroke="#67566f" stroke-width="2.2"/>
</g></g>
<g filter="url(#glowS)"><path d="M250 107.3 L251.6 107.5 L253.1 107.8 L254.7 108 L256.3 108.3 L257.8 108.6 L259.3 108.9 L260.9 109.2 L262.4 109.6 L263.9 109.9 L265.4 110.3 L267 110.7 L268.5 111.1 L270 111.5 L271.4 111.9 L272.9 112.4 L274.4 112.9 L275.9 113.4 L277.3 113.9 L278.8 114.4 L280.2 114.9 L281.7 115.5 L283.1 116 L284.5 116.6 L285.9 117.2 L287.3 117.8 L288.7 118.4 L290.1 119.1 L291.5 119.7 L292.8 120.4 L294.2 121.1 L295.5 121.8 L296.9 122.5 L298.2 123.3 L299.5 124 L300.8 124.8 L302.1 125.6 L303.4 126.3 L304.7 127.2 L306 128 L307.2 128.8 L308.5 129.7 L309.7 130.5 L310.9 131.4 L312.2 132.3 L313.4 133.2 L314.6 134.1 L315.7 135.1 L316.9 136 L318.1 137 L319.2 137.9 L320.4 138.9 L321.5 139.9 L322.6 141 L323.7 142 L324.8 143 L325.9 144.1 L326.9 145.1 L328 146.2 L329 147.3 L330.1 148.4 L331.1 149.6 L332.1 150.7 L333.1 151.8 L334.1 153 L335 154.2 L336 155.3 L336.9 156.5 L337.8 157.8 L338.7 159 L339.3 159.8" fill="none" stroke="#141414" stroke-width="3.3" stroke-linejoin="round"/><path d="M347.8 173.2 L331.6 159.9 L338.3 158.6 L342.1 153 Z" fill="#141414"/></g>
<g filter="url(#glowS)"><path d="M582.8 110.4 L581.8 110.9 L580.8 111.4 L579.8 111.9 L578.8 112.4 L577.8 113 L576.8 113.5 L575.9 114.1 L574.9 114.6 L573.9 115.2 L572.9 115.8 L572 116.4 L571 117 L570.1 117.6 L569.1 118.2 L568.2 118.8 L567.2 119.5 L566.3 120.1 L565.4 120.8 L564.4 121.4 L563.5 122.1 L562.6 122.8 L561.7 123.5 L560.8 124.2 L559.9 124.9 L559 125.6 L558.1 126.3 L557.2 127 L556.3 127.8 L555.5 128.5 L554.6 129.3 L553.7 130 L552.9 130.8 L552 131.6 L551.2 132.4 L550.4 133.2 L549.5 134 L548.7 134.8 L547.9 135.6 L547.1 136.4 L546.3 137.3 L545.5 138.1 L544.7 139 L543.9 139.8 L543.1 140.7 L542.3 141.5 L541.6 142.4 L540.8 143.3 L540.1 144.2 L539.3 145.1 L538.6 146 L537.9 146.9 L537.1 147.8 L536.4 148.8 L535.7 149.7 L535 150.6 L534.3 151.6 L533.7 152.5 L533 153.5 L532.3 154.5 L531.7 155.4 L531 156.4 L530.4 157.4 L529.7 158.4 L529.1 159.4 L528.5 160.4 L527.9 161.4 L527.5 162" fill="none" stroke="#141414" stroke-width="3.3" stroke-linejoin="round"/><path d="M520.3 176.2 L524.1 155.6 L528.4 160.8 L535.2 161.5 Z" fill="#141414"/></g>
<g filter="url(#glowS)"><path d="M105.5 535.5 L106.3 536 L107 536.5 L107.8 537 L108.6 537.5 L109.3 538 L110.1 538.5 L110.8 539 L111.6 539.6 L112.3 540.1 L113 540.7 L113.8 541.2 L114.5 541.8 L115.2 542.4 L116 543 L116.7 543.6 L117.4 544.2 L118.1 544.9 L118.8 545.5 L119.5 546.1 L120.2 546.8 L120.9 547.5 L121.6 548.1 L122.3 548.8 L123 549.5 L123.7 550.2 L124.3 550.9 L125 551.6 L125.7 552.4 L126.3 553.1 L127 553.8 L127.6 554.6 L128.3 555.3 L128.9 556.1 L129.6 556.9 L130.2 557.7 L130.8 558.5 L131.4 559.3 L132 560.1 L132.7 560.9 L133.3 561.8 L133.9 562.6 L134.5 563.4 L135 564.3 L135.6 565.2 L136.2 566 L136.8 566.9 L137.3 567.8 L137.9 568.7 L138.4 569.6 L139 570.5 L139.5 571.4 L140.1 572.4 L140.6 573.3 L141.1 574.2 L141.6 575.2 L142.1 576.2 L142.6 577.1 L143.1 578.1 L143.6 579.1 L144.1 580.1 L144.5 581.1 L145 582.1 L145.5 583.1 L145.9 584.1 L146.4 585.2 L146.8 586.2 L146.9 586.5" fill="none" stroke="#141414" stroke-width="3.3" stroke-linejoin="round"/><path d="M152.1 601.5 L139.4 584.8 L146.2 585.1 L151.2 580.6 Z" fill="#141414"/></g>
<g filter="url(#glowS)"><path d="M333.2 534.6 L332.2 535.1 L331.2 535.5 L330.2 536 L329.2 536.5 L328.2 537 L327.2 537.5 L326.2 538 L325.2 538.5 L324.2 539.1 L323.2 539.6 L322.2 540.2 L321.3 540.8 L320.3 541.4 L319.3 542 L318.4 542.6 L317.4 543.2 L316.5 543.8 L315.5 544.5 L314.6 545.1 L313.7 545.8 L312.8 546.5 L311.8 547.1 L310.9 547.8 L310 548.5 L309.1 549.2 L308.2 550 L307.3 550.7 L306.4 551.4 L305.6 552.2 L304.7 553 L303.8 553.7 L303 554.5 L302.1 555.3 L301.3 556.1 L300.4 556.9 L299.6 557.7 L298.7 558.5 L297.9 559.4 L297.1 560.2 L296.3 561.1 L295.5 561.9 L294.7 562.8 L293.9 563.7 L293.1 564.6 L292.4 565.5 L291.6 566.4 L290.8 567.3 L290.1 568.2 L289.3 569.1 L288.6 570.1 L287.9 571 L287.1 572 L286.4 572.9 L285.7 573.9 L285 574.9 L284.3 575.8 L283.6 576.8 L282.9 577.8 L282.3 578.8 L281.6 579.9 L281 580.9 L280.3 581.9 L279.7 582.9 L279.1 584 L278.4 585 L277.8 586.1 L277.2 587.1 L277.2 587.2" fill="none" stroke="#141414" stroke-width="3.3" stroke-linejoin="round"/><path d="M270.2 601.5 L273.6 580.8 L278.1 586 L284.9 586.5 Z" fill="#141414"/></g>
<g filter="url(#glow)">
<path d="M336 187 C352 178 385 176 425 179.5 C445 181 462 186 477 190.5 C490 192.5 500 187 512 187.5 C528 188 548 193 558 199 C566 204 569 212 567 220 C563 234 548 244 536 251 C522 259.5 508 268 497 274.5 C480 284 452 294 432 300.5 C415 306 403 310 393 316.5 C380 325 372 332 367 339 C360 349 357 358 354 364 C350 371 345 375.5 339.5 375.5 C333 375.5 329.5 371 327.5 364 C324 352 322 340 319.5 328 C316 312 311 298 309.5 284 C308 272 307.5 261 308.2 250 C309 236 311 223 316 212 C320 201 327 192 336 187 Z" fill="url(#liverG)"/>
<g clip-path="url(#liverClip)">
<path d="M470 186 L575 186 L575 260 L480 290 C476 262 472 226 470 186 Z" fill="url(#lobeR)"/>
<path d="M474 215.5 C484 214.5 498 216 506 219.5 C516 224 521.5 231 520.5 238 C520 245 516 250 512 256 L500 276 L476 290 Z" fill="#e8c4a2" opacity="0.92"/>
<path d="M336 200 C360 184 420 182 452 188 L456 212 C440 222 425 228 410 226 C385 222 350 216 336 200 Z" fill="url(#liverHi)"/>
</g>
<path d="M336 187 C352 178 385 176 425 179.5 C445 181 462 186 477 190.5 C490 192.5 500 187 512 187.5 C528 188 548 193 558 199 C566 204 569 212 567 220 C563 234 548 244 536 251 C522 259.5 508 268 497 274.5 C480 284 452 294 432 300.5 C415 306 403 310 393 316.5 C380 325 372 332 367 339 C360 349 357 358 354 364 C350 371 345 375.5 339.5 375.5 C333 375.5 329.5 371 327.5 364 C324 352 322 340 319.5 328 C316 312 311 298 309.5 284 C308 272 307.5 261 308.2 250 C309 236 311 223 316 212 C320 201 327 192 336 187 Z" fill="none" stroke="#d2a76a" stroke-width="2"/>
<path d="M426 178.5 C433 177 440 178.5 444 181.5 C458 187 470 189.5 480 190 C490 189.5 497 187.5 504 187 L508 190.5 C494 194 484 202 478 214 C473 228 476 244 480 258 C484 270 491 278 496 283 C495 289 490 293 484 293.5 C476 292 468 286 465 278 C461 262 463 244 462 230 C461 214 455 200 445 192 C439 187 432 183.500 426 178.5 Z" fill="url(#ligG)" stroke="#cfa960" stroke-width="1.2"/>
<path d="M452 185.500 C464 189.500 474 191 482 191 C490 190.500 497 189 503 188.500 C492 193 483 200 478 211 C475 203 466 192 452 185.500 Z" fill="#f3e3ba" opacity="0.85"/>
<path d="M446 183 C462 192 472 206 474 224 C475 244 476 262 486 280" fill="none" stroke="#efdcae" stroke-width="2.2" opacity="0.8"/>
</g>
<text x="170.600" y="417.3" font-size="40.8" fill="#777777">C19orf66</text>
<rect x="474" y="381.500" width="169" height="44" rx="12" fill="#f3b8b8" filter="url(#blur7)"/>
<text x="472.300" y="417" font-size="40.8" fill="#111111">C19orf66</text>
<path d="M356 400.7 L422.8 400.7 L422.8 393.3 L456.3 406.8 L422.8 420.3 L422.8 412.6 L356 412.6 Z" fill="#f24237" stroke="#8c1f1c" stroke-width="1.2" stroke-linejoin="miter" filter="url(#glowS)"/>
<text x="32.600" y="525" font-size="40.8" fill="#111111">Stress</text>
<text x="530.5" y="490.2" font-size="40.8" fill="#111111">Interactome</text>
<text x="206.8" y="772.8" font-size="29.4" fill="#111111" text-anchor="middle">C19orf66</text>
<text x="206.8" y="808.2" font-size="29.4" fill="#111111" text-anchor="middle">granulae<tspan font-size="15" dy="-11" font-weight="bold">+</tspan></text>
<text x="638.8" y="772.8" font-size="29.4" fill="#e8463d" text-anchor="middle">Stress</text>
<text x="638.8" y="808.2" font-size="29.4" fill="#e8463d" text-anchor="middle">granule-associated</text>
<text x="638.8" y="843" font-size="29.4" fill="#e8463d" text-anchor="middle">proteins</text>
<g filter="url(#glow)"><g transform="translate(603 82.8) rotate(24.1)">
<path d="M-14 -3.3 L-57 -3.900 L-66.500 -2.600 L-57 -0.700 L-14 0.5 Z" fill="#9c9caa" stroke="#4c4c5a" stroke-width="1" stroke-linejoin="round"/>
<path d="M-56 -2 L-16 -1.4" stroke="#d8d8e2" stroke-width="0.9" stroke-dasharray="2 1.6"/>
<ellipse cx="139.500" cy="2" rx="9.2" ry="18" fill="#c9cbd6" stroke="#70727f" stroke-width="1.4"/>
<ellipse cx="134.500" cy="2" rx="9.2" ry="18" fill="#dcdde6" stroke="#70727f" stroke-width="1.4"/>
<rect x="110" y="-1.500" width="25" height="6" fill="#b9bbc6" stroke="#5c5e6c" stroke-width="1.2"/>
<path d="M112 1 L134 1" stroke="#e6e7ee" stroke-width="1.4"/>
<g clip-path="url(#barrelClip)">
<rect x="-14" y="-25" width="130" height="50" fill="url(#syrC)"/>
<path d="M-14 -25 L90.500 -25 Q105.500 0 91.500 25 L-14 25 Z" fill="url(#syrO)"/>
</g>
<path d="M0 -24.8 L103 -24.8 A10.5 24.8 0 0 1 103 24.8 L0 24.8 A13 24.8 0 0 1 0 -24.8 Z" fill="none" stroke="#454b5a" stroke-width="1.5"/>
<path d="M9 -24.8 A11 24.8 0 0 1 9 24.8" fill="none" stroke="#454b5a" stroke-width="1.4"/>
<path d="M6.5 -23.5 A11 24 0 0 1 14 -10" fill="none" stroke="#fdf3e2" stroke-width="2.6" opacity="0.9"/>
<path d="M24.5 -24.8 q0.6 4.4 4.2 6.6" fill="none" stroke="#454b5a" stroke-width="1.5" stroke-linecap="round"/>
<path d="M37.4 -24.8 q0.6 4.4 4.2 6.6" fill="none" stroke="#454b5a" stroke-width="1.5" stroke-linecap="round"/>
<path d="M49.5 -24.8 q0.6 4.4 4.2 6.6" fill="none" stroke="#454b5a" stroke-width="1.5" stroke-linecap="round"/>
<path d="M62.4 -24.8 q0.6 4.4 4.2 6.6" fill="none" stroke="#454b5a" stroke-width="1.5" stroke-linecap="round"/>
<path d="M74.5 -24.8 q0.6 4.4 4.2 6.6" fill="none" stroke="#454b5a" stroke-width="1.5" stroke-linecap="round"/>
<path d="M86.6 -24.8 q0.6 4.4 4.2 6.6" fill="none" stroke="#454b5a" stroke-width="1.5" stroke-linecap="round"/>
<ellipse cx="-0.5" cy="-1" rx="12.3" ry="19.3" fill="#a5ead3" stroke="#454b5a" stroke-width="1.3"/>
<ellipse cx="-8" cy="-1" rx="7.2" ry="11.6" fill="#a5ead3" stroke="#454b5a" stroke-width="1.3"/>
<ellipse cx="-14.6" cy="-1.5" rx="4.6" ry="7.4" fill="#a5ead3" stroke="#454b5a" stroke-width="1.3"/>
<path d="M-14.5 -2.8 L-19 -2.9 L-19 -0.3 L-14.5 -0.1 Z" fill="#9a9aa8" stroke="#50505e" stroke-width="0.8"/>
<text x="35.600" y="21.8" font-size="30" fill="#141414" stroke="#141414" stroke-width="0.35">IFN</text>
</g></g>
<path d="M202.9 591.3 C212.5 591 223.5 591.3 233.4 593.5 C243.3 595.6 253.8 598.7 262.4 604.1 C270.9 609.6 278.7 618 284.6 626.1 C290.6 634.2 296.1 644.1 298 652.9 C300 661.7 298.9 670.6 296.2 678.8 C293.6 687.1 288.6 695.7 282.2 702.3 C275.8 708.9 267 714.7 257.8 718.5 C248.7 722.2 238.5 724.3 227.3 724.9 C216.1 725.4 201 724 190.7 721.8 C180.5 719.7 172 715.6 165.7 712.1 C159.4 708.5 156.3 704.5 152.9 700.5 C149.6 696.5 148.6 692.8 145.6 688.3 C142.7 683.8 137.8 679.6 135.2 673.7 C132.7 667.8 130.1 660.4 130.4 652.9 C130.7 645.4 133.1 636.1 137.1 628.5 C141 621 147.6 613.3 154.1 607.8 C160.7 602.3 168 598.4 176.1 595.6 C184.2 592.9 193.4 591.7 202.9 591.3 Z" fill="url(#cellG)" stroke="#c56c6c" stroke-width="1.6" filter="url(#glow)"/>
<circle cx="190.7" cy="628.5" r="6.7" fill="url(#granS)" stroke="#c0494b" stroke-width="1.4"/>
<circle cx="223.7" cy="618.5" r="6.7" fill="url(#granS)" stroke="#c0494b" stroke-width="1.4"/>
<circle cx="176.1" cy="640.7" r="6.7" fill="url(#granS)" stroke="#c0494b" stroke-width="1.4"/>
<circle cx="264.8" cy="647.4" r="8.2" fill="url(#granS)" stroke="#c0494b" stroke-width="1.4"/>
<circle cx="257.2" cy="677" r="4.3" fill="url(#granS)" stroke="#c0494b" stroke-width="1.4"/>
<circle cx="163.9" cy="679.8" r="6.1" fill="url(#granS)" stroke="#c0494b" stroke-width="1.4"/>
<circle cx="181.3" cy="695.6" r="6.7" fill="url(#granS)" stroke="#c0494b" stroke-width="1.4"/>
<circle cx="223.7" cy="701.7" r="8.5" fill="url(#granS)" stroke="#c0494b" stroke-width="1.4"/>
<ellipse cx="219.7" cy="646.8" rx="18.3" ry="16" transform="rotate(-20 219.7 646.8)" fill="url(#granG)" stroke="#b03a3c" stroke-width="1.2"/>
<ellipse cx="209" cy="671.8" rx="17.8" ry="14.6" transform="rotate(-12 209 671.8)" fill="url(#granG)" stroke="#b03a3c" stroke-width="1.2"/>
<g filter="url(#glow)">
<path d="M0 -36.5 C16.4 -36.5 30 -17.1 30 6.6 C30 23.1 16.6 36.5 0 36.5 C-16.6 36.5 -30 23.1 -30 6.6 C-30 -17.1 -16.4 -36.5 0 -36.5 Z" transform="translate(615.5 551.5) rotate(-12)" fill="url(#grayB)" stroke="#6f6f6f" stroke-width="1.5"/>
<ellipse cx="672.3" cy="549.2" rx="20" ry="19.4" fill="url(#grayB)" stroke="#6f6f6f" stroke-width="1.5"/>
<ellipse cx="553.6" cy="582.2" rx="22.2" ry="22" fill="url(#grayB)" stroke="#6f6f6f" stroke-width="1.5"/>
<path d="M519.500 599.800 C532 606 544 621 544.200 638 C544.400 654 536 667 526.500 673.200 C516 669 504 656 501.800 640 C500 624 508 608 519.500 599.800 Z" fill="url(#grayB)" stroke="#6f6f6f" stroke-width="1.5"/>
<path d="M0 -36.5 C16.7 -36.5 30.5 -17.1 30.5 6.6 C30.5 23.1 16.8 36.5 0 36.5 C-16.8 36.5 -30.5 23.1 -30.5 6.6 C-30.5 -17.1 -16.7 -36.5 0 -36.5 Z" transform="translate(722 582) rotate(-12)" fill="url(#redB)" stroke="#b34446" stroke-width="1.5"/>
<ellipse cx="755.3" cy="645.5" rx="21.5" ry="21.5" fill="url(#redB)" stroke="#b34446" stroke-width="1.5"/>
<path d="M0 -31 C18.7 -31 28.8 -14.5 28.8 5.6 C28.8 19.6 15.9 31 0 31 C-15.9 31 -28.8 19.6 -28.8 5.6 C-28.8 -14.5 -18.7 -31 0 -31 Z" transform="translate(715.4 681.8) rotate(-10)" fill="url(#redB)" stroke="#b34446" stroke-width="1.5"/>
<path d="M0 -31.3 C19.8 -31.3 30.5 -14.7 30.5 5.6 C30.5 19.8 16.8 31.3 0 31.3 C-16.8 31.3 -30.5 19.8 -30.5 5.6 C-30.5 -14.7 -19.8 -31.3 0 -31.3 Z" transform="translate(648.4 696.8) rotate(0)" fill="url(#redB)" stroke="#b34446" stroke-width="1.5"/>
<path d="M0 -31.8 C19.8 -31.8 30.5 -14.9 30.5 5.7 C30.5 20.1 16.8 31.8 0 31.8 C-16.8 31.8 -30.5 20.1 -30.5 5.7 C-30.5 -14.9 -19.8 -31.8 0 -31.8 Z" transform="translate(570.8 688.5) rotate(0)" fill="url(#redB)" stroke="#b34446" stroke-width="1.5"/>
</g>
<ellipse cx="626.3" cy="627" rx="69.3" ry="29.3" fill="url(#midB)" stroke="#d58a8a" stroke-width="1"/>
<text x="626.6" y="637.2" font-size="29" fill="#1c1414" text-anchor="middle">C19orf66</text>
<text x="1132.8" y="112.8" font-size="52.4" fill="#777777">C19orf66</text>
<rect x="1429" y="71" width="217" height="48" rx="12" fill="#f3b8b8" filter="url(#blur7)"/>
<text x="1426" y="112.8" font-size="52.2" fill="#111111">C19orf66</text>
<path d="M1400.6 73.5 L1400.6 761.500" stroke="#474a57" stroke-width="2.6" stroke-linecap="butt"/>
<text x="1100.5" y="244.9" font-size="40.8" fill="#111111" text-anchor="end">PI(4)P</text>
<text x="1099.2" y="455.3" font-size="40.8" fill="#111111" text-anchor="end">Membranous</text>
<text x="1099.5" y="495.6" font-size="40.8" fill="#111111" text-anchor="end">web</text>
<text x="1098.6" y="717.7" font-size="40.8" fill="#111111" text-anchor="end">HCV RNA</text>
<g transform="translate(1157.6 187.1)" filter="url(#glow)">
<path d="M-13 12 C-10.500 24 -5 34 -6 46 C-6.800 56 -9.200 64 -10.300 71.500 C-8.200 64 -4.200 56 -3 46 C-1.500 34 -7.600 24 -9.4 13 Z" fill="#3b2355" stroke="#3b2355" stroke-width="0.7" stroke-linejoin="round"/>
<path d="M7.8 14 C10 26 5 38 4.600 52 C4.400 62 6.200 72 7.200 81 C8.200 72 8 62 8.300 52 C8.800 38 13.800 26 11.6 13 Z" fill="#3b2355" stroke="#3b2355" stroke-width="0.7" stroke-linejoin="round"/>
<polygon points="0,-19.3 16.7,-9.6 16.7,9.6 0,19.3 -16.7,9.6 -16.7,-9.7" fill="url(#hexG)" stroke="#5c3a68" stroke-width="1.5" stroke-linejoin="round"/>
<circle cx="0" cy="-24.6" r="4.9" fill="url(#ballG)" stroke="#cf4f6c" stroke-width="0.9"/>
</g>
<g transform="translate(1196.8 219.6)" filter="url(#glow)">
<path d="M-13 12 C-10.500 24 -5 34 -6 46 C-6.800 56 -9.200 64 -10.300 71.500 C-8.200 64 -4.200 56 -3 46 C-1.500 34 -7.600 24 -9.4 13 Z" fill="#3b2355" stroke="#3b2355" stroke-width="0.7" stroke-linejoin="round"/>
<path d="M7.8 14 C10 26 5 38 4.600 52 C4.400 62 6.200 72 7.200 81 C8.200 72 8 62 8.300 52 C8.800 38 13.800 26 11.6 13 Z" fill="#3b2355" stroke="#3b2355" stroke-width="0.7" stroke-linejoin="round"/>
<polygon points="0,-19.3 16.7,-9.6 16.7,9.6 0,19.3 -16.7,9.6 -16.7,-9.7" fill="url(#hexG)" stroke="#5c3a68" stroke-width="1.5" stroke-linejoin="round"/>
<circle cx="0" cy="-24.6" r="4.9" fill="url(#ballG)" stroke="#cf4f6c" stroke-width="0.9"/>
</g>
<g transform="translate(1244.3 197.9)" filter="url(#glow)">
<path d="M-13 12 C-10.500 24 -5 34 -6 46 C-6.800 56 -9.200 64 -10.300 71.500 C-8.200 64 -4.200 56 -3 46 C-1.500 34 -7.600 24 -9.4 13 Z" fill="#3b2355" stroke="#3b2355" stroke-width="0.7" stroke-linejoin="round"/>
<path d="M7.8 14 C10 26 5 38 4.600 52 C4.400 62 6.200 72 7.200 81 C8.200 72 8 62 8.300 52 C8.800 38 13.800 26 11.6 13 Z" fill="#3b2355" stroke="#3b2355" stroke-width="0.7" stroke-linejoin="round"/>
<polygon points="0,-19.3 16.7,-9.6 16.7,9.6 0,19.3 -16.7,9.6 -16.7,-9.7" fill="url(#hexG)" stroke="#5c3a68" stroke-width="1.5" stroke-linejoin="round"/>
<circle cx="0" cy="-24.6" r="4.9" fill="url(#ballG)" stroke="#cf4f6c" stroke-width="0.9"/>
</g>
<g transform="translate(1285.5 230)" filter="url(#glow)">
<path d="M-13 12 C-10.500 24 -5 34 -6 46 C-6.800 56 -9.200 64 -10.300 71.500 C-8.200 64 -4.200 56 -3 46 C-1.500 34 -7.600 24 -9.4 13 Z" fill="#3b2355" stroke="#3b2355" stroke-width="0.7" stroke-linejoin="round"/>
<path d="M7.8 14 C10 26 5 38 4.600 52 C4.400 62 6.200 72 7.200 81 C8.200 72 8 62 8.300 52 C8.800 38 13.800 26 11.6 13 Z" fill="#3b2355" stroke="#3b2355" stroke-width="0.7" stroke-linejoin="round"/>
<polygon points="0,-19.3 16.7,-9.6 16.7,9.6 0,19.3 -16.7,9.6 -16.7,-9.7" fill="url(#hexG)" stroke="#5c3a68" stroke-width="1.5" stroke-linejoin="round"/>
<circle cx="0" cy="-24.6" r="4.9" fill="url(#ballG)" stroke="#cf4f6c" stroke-width="0.9"/>
</g>
<g transform="translate(1324.7 186.3)" filter="url(#glow)">
<path d="M-13 12 C-10.500 24 -5 34 -6 46 C-6.800 56 -9.200 64 -10.300 71.500 C-8.200 64 -4.200 56 -3 46 C-1.500 34 -7.600 24 -9.4 13 Z" fill="#3b2355" stroke="#3b2355" stroke-width="0.7" stroke-linejoin="round"/>
<path d="M7.8 14 C10 26 5 38 4.600 52 C4.400 62 6.200 72 7.200 81 C8.200 72 8 62 8.300 52 C8.800 38 13.800 26 11.6 13 Z" fill="#3b2355" stroke="#3b2355" stroke-width="0.7" stroke-linejoin="round"/>
<polygon points="0,-19.3 16.7,-9.6 16.7,9.6 0,19.3 -16.7,9.6 -16.7,-9.7" fill="url(#hexG)" stroke="#5c3a68" stroke-width="1.5" stroke-linejoin="round"/>
<circle cx="0" cy="-24.6" r="4.9" fill="url(#ballG)" stroke="#cf4f6c" stroke-width="0.9"/>
</g>
<g transform="translate(1509.9 219.6)" filter="url(#glow)">
<path d="M-13 12 C-10.500 24 -5 34 -6 46 C-6.800 56 -9.200 64 -10.300 71.500 C-8.200 64 -4.200 56 -3 46 C-1.500 34 -7.600 24 -9.4 13 Z" fill="#3b2355" stroke="#3b2355" stroke-width="0.7" stroke-linejoin="round"/>
<path d="M7.8 14 C10 26 5 38 4.600 52 C4.400 62 6.200 72 7.200 81 C8.200 72 8 62 8.300 52 C8.800 38 13.800 26 11.6 13 Z" fill="#3b2355" stroke="#3b2355" stroke-width="0.7" stroke-linejoin="round"/>
<polygon points="0,-19.3 16.7,-9.6 16.7,9.6 0,19.3 -16.7,9.6 -16.7,-9.7" fill="url(#hexG)" stroke="#5c3a68" stroke-width="1.5" stroke-linejoin="round"/>
<circle cx="0" cy="-24.6" r="4.9" fill="url(#ballG)" stroke="#cf4f6c" stroke-width="0.9"/>
</g>
<g transform="translate(1557.6 197.9)" filter="url(#glow)">
<path d="M-13 12 C-10.500 24 -5 34 -6 46 C-6.800 56 -9.200 64 -10.300 71.500 C-8.200 64 -4.200 56 -3 46 C-1.500 34 -7.600 24 -9.4 13 Z" fill="#3b2355" stroke="#3b2355" stroke-width="0.7" stroke-linejoin="round"/>
<path d="M7.8 14 C10 26 5 38 4.600 52 C4.400 62 6.200 72 7.200 81 C8.200 72 8 62 8.300 52 C8.800 38 13.800 26 11.6 13 Z" fill="#3b2355" stroke="#3b2355" stroke-width="0.7" stroke-linejoin="round"/>
<polygon points="0,-19.3 16.7,-9.6 16.7,9.6 0,19.3 -16.7,9.6 -16.7,-9.7" fill="url(#hexG)" stroke="#5c3a68" stroke-width="1.5" stroke-linejoin="round"/>
<circle cx="0" cy="-24.6" r="4.9" fill="url(#ballG)" stroke="#cf4f6c" stroke-width="0.9"/>
</g>
<g filter="url(#glow)">
<ellipse cx="1180.4" cy="441.5" rx="37.4" ry="33.2" transform="rotate(22 1180.4 441.5)" fill="url(#vesG)" stroke="#868686" stroke-width="1.5"/>
<ellipse cx="1226.9" cy="413.6" rx="21.3" ry="21.6" transform="rotate(0 1226.9 413.6)" fill="url(#vesG)" stroke="#868686" stroke-width="1.5"/>
<ellipse cx="1280.2" cy="404.3" rx="24.4" ry="32.7" transform="rotate(-14 1280.2 404.3)" fill="url(#vesG)" stroke="#868686" stroke-width="1.5"/>
<ellipse cx="1279.7" cy="405.3" rx="18.5" ry="25.6" transform="rotate(-14 1279.7 405.3)" fill="url(#vesG)" stroke="#9a9a9a" stroke-width="1.2"/>
<ellipse cx="1333.3" cy="419.7" rx="25.1" ry="30.8" transform="rotate(-18 1333.3 419.7)" fill="url(#vesG)" stroke="#868686" stroke-width="1.5"/>
<ellipse cx="1252.5" cy="443.7" rx="16.1" ry="17.8" transform="rotate(0 1252.5 443.7)" fill="url(#vesG)" stroke="#868686" stroke-width="1.5"/>
<ellipse cx="1306" cy="474" rx="40.8" ry="32.7" transform="rotate(14 1306 474)" fill="url(#vesG)" stroke="#868686" stroke-width="1.5"/>
<ellipse cx="1307.4" cy="475.7" rx="33.7" ry="26.1" transform="rotate(12 1307.4 475.7)" fill="url(#vesG)" stroke="#9a9a9a" stroke-width="1.2"/>
<ellipse cx="1308.9" cy="477.1" rx="25.1" ry="19.9" transform="rotate(8 1308.9 477.1)" fill="url(#vesG)" stroke="#9a9a9a" stroke-width="1.2"/>
<ellipse cx="1233.3" cy="484.7" rx="25.6" ry="30.3" transform="rotate(-14 1233.3 484.7)" fill="url(#vesG)" stroke="#868686" stroke-width="1.5"/>
<ellipse cx="1138" cy="474.2" rx="16.1" ry="17.1" transform="rotate(0 1138 474.2)" fill="url(#vesG)" stroke="#868686" stroke-width="1.5"/>
<ellipse cx="1178.7" cy="499.1" rx="25.8" ry="21.6" transform="rotate(-8 1178.7 499.1)" fill="url(#vesG)" stroke="#868686" stroke-width="1.5"/>
<ellipse cx="1178.7" cy="497.7" rx="20.1" ry="14.9" transform="rotate(-6 1178.7 497.7)" fill="url(#vesG)" stroke="#9a9a9a" stroke-width="1.2"/>
<ellipse cx="1215.5" cy="528.5" rx="18.7" ry="20.1" transform="rotate(-10 1215.5 528.5)" fill="url(#vesG)" stroke="#868686" stroke-width="1.5"/>
<ellipse cx="1254.8" cy="541.6" rx="19.2" ry="16.4" transform="rotate(-8 1254.8 541.6)" fill="url(#vesG)" stroke="#868686" stroke-width="1.5"/>
<ellipse cx="1269.3" cy="508.9" rx="15.9" ry="15.4" transform="rotate(0 1269.3 508.9)" fill="url(#vesG)" stroke="#868686" stroke-width="1.5"/>
<ellipse cx="1295.6" cy="524" rx="16.1" ry="15.9" transform="rotate(0 1295.6 524)" fill="url(#vesG)" stroke="#868686" stroke-width="1.5"/>
</g>
<g filter="url(#glow)">
<ellipse cx="1453" cy="448" rx="16.1" ry="16.6" transform="rotate(0 1453 448)" fill="url(#vesG)" stroke="#7e7e7e" stroke-width="1.5"/>
<ellipse cx="1452.6" cy="447.3" rx="11.9" ry="11.9" transform="rotate(0 1452.6 447.3)" fill="url(#vesG)" stroke="#7e7e7e" stroke-width="1.5"/>
<ellipse cx="1478.9" cy="439.7" rx="6.5" ry="6.5" transform="rotate(0 1478.9 439.7)" fill="url(#vesG)" stroke="#7e7e7e" stroke-width="1.5"/>
<ellipse cx="1495" cy="440.6" rx="6.1" ry="6.1" transform="rotate(0 1495 440.6)" fill="url(#vesG)" stroke="#7e7e7e" stroke-width="1.5"/>
<ellipse cx="1493.7" cy="420.9" rx="11.9" ry="10.1" transform="rotate(0 1493.7 420.9)" fill="url(#vesG)" stroke="#7e7e7e" stroke-width="1.5"/>
<ellipse cx="1525" cy="408.3" rx="9.6" ry="9.3" transform="rotate(0 1525 408.3)" fill="url(#vesG)" stroke="#7e7e7e" stroke-width="1.5"/>
<ellipse cx="1542.5" cy="409.1" rx="7.3" ry="7.3" transform="rotate(0 1542.5 409.1)" fill="url(#vesG)" stroke="#7e7e7e" stroke-width="1.5"/>
<ellipse cx="1514.5" cy="431.3" rx="10" ry="11" transform="rotate(0 1514.5 431.3)" fill="url(#vesG)" stroke="#7e7e7e" stroke-width="1.5"/>
<ellipse cx="1531" cy="431.9" rx="5.6" ry="5.6" transform="rotate(0 1531 431.9)" fill="url(#vesG)" stroke="#7e7e7e" stroke-width="1.5"/>
<ellipse cx="1554.9" cy="430.8" rx="16.6" ry="17" transform="rotate(0 1554.9 430.8)" fill="url(#vesG)" stroke="#7e7e7e" stroke-width="1.5"/>
<ellipse cx="1582.9" cy="412.6" rx="13.1" ry="13.1" transform="rotate(0 1582.9 412.6)" fill="url(#vesG)" stroke="#7e7e7e" stroke-width="1.5"/>
<ellipse cx="1597.3" cy="431.3" rx="7.9" ry="8.4" transform="rotate(0 1597.3 431.3)" fill="url(#vesG)" stroke="#7e7e7e" stroke-width="1.5"/>
<ellipse cx="1582.4" cy="443.6" rx="10.1" ry="11.4" transform="rotate(0 1582.4 443.6)" fill="url(#vesG)" stroke="#7e7e7e" stroke-width="1.5"/>
<ellipse cx="1612.5" cy="444.8" rx="7.9" ry="7.5" transform="rotate(0 1612.5 444.8)" fill="url(#vesG)" stroke="#7e7e7e" stroke-width="1.5"/>
<ellipse cx="1600.4" cy="459.9" rx="8.7" ry="9.6" transform="rotate(0 1600.4 459.9)" fill="url(#vesG)" stroke="#7e7e7e" stroke-width="1.5"/>
<ellipse cx="1620.3" cy="466" rx="10.5" ry="10.8" transform="rotate(0 1620.3 466)" fill="url(#vesG)" stroke="#7e7e7e" stroke-width="1.5"/>
<ellipse cx="1620.9" cy="486.1" rx="6.5" ry="6.5" transform="rotate(0 1620.9 486.1)" fill="url(#vesG)" stroke="#7e7e7e" stroke-width="1.5"/>
<ellipse cx="1483.6" cy="458.5" rx="11.9" ry="11.9" transform="rotate(0 1483.6 458.5)" fill="url(#vesG)" stroke="#7e7e7e" stroke-width="1.5"/>
<ellipse cx="1512.4" cy="460.7" rx="15" ry="15" transform="rotate(0 1512.4 460.7)" fill="url(#vesG)" stroke="#7e7e7e" stroke-width="1.5"/>
<ellipse cx="1513.3" cy="460.9" rx="12.2" ry="12.2" transform="rotate(0 1513.3 460.9)" fill="url(#vesG)" stroke="#7e7e7e" stroke-width="1.5"/>
<ellipse cx="1514.2" cy="461.3" rx="9.1" ry="8.7" transform="rotate(0 1514.2 461.3)" fill="url(#vesG)" stroke="#7e7e7e" stroke-width="1.5"/>
<ellipse cx="1534.7" cy="450.6" rx="7" ry="7" transform="rotate(0 1534.7 450.6)" fill="url(#vesG)" stroke="#7e7e7e" stroke-width="1.5"/>
<ellipse cx="1550" cy="456.7" rx="7" ry="7" transform="rotate(0 1550 456.7)" fill="url(#vesG)" stroke="#7e7e7e" stroke-width="1.5"/>
<ellipse cx="1538.3" cy="468.9" rx="7.3" ry="7.3" transform="rotate(0 1538.3 468.9)" fill="url(#vesG)" stroke="#7e7e7e" stroke-width="1.5"/>
<ellipse cx="1570.5" cy="465.1" rx="11.9" ry="13.6" transform="rotate(0 1570.5 465.1)" fill="url(#vesG)" stroke="#7e7e7e" stroke-width="1.5"/>
<ellipse cx="1590.3" cy="475.6" rx="7.3" ry="7.9" transform="rotate(0 1590.3 475.6)" fill="url(#vesG)" stroke="#7e7e7e" stroke-width="1.5"/>
<ellipse cx="1467.5" cy="471.9" rx="8.2" ry="8.2" transform="rotate(0 1467.5 471.9)" fill="url(#vesG)" stroke="#7e7e7e" stroke-width="1.5"/>
<ellipse cx="1459.1" cy="488.2" rx="7.3" ry="7.3" transform="rotate(0 1459.1 488.2)" fill="url(#vesG)" stroke="#7e7e7e" stroke-width="1.5"/>
<ellipse cx="1474.5" cy="487" rx="6.6" ry="6.6" transform="rotate(0 1474.5 487)" fill="url(#vesG)" stroke="#7e7e7e" stroke-width="1.5"/>
<ellipse cx="1495" cy="485.6" rx="11.4" ry="11.9" transform="rotate(0 1495 485.6)" fill="url(#vesG)" stroke="#7e7e7e" stroke-width="1.5"/>
<ellipse cx="1468.2" cy="500.1" rx="6.1" ry="6.1" transform="rotate(0 1468.2 500.1)" fill="url(#vesG)" stroke="#7e7e7e" stroke-width="1.5"/>
<ellipse cx="1485.9" cy="507.1" rx="10.1" ry="10.1" transform="rotate(0 1485.9 507.1)" fill="url(#vesG)" stroke="#7e7e7e" stroke-width="1.5"/>
<ellipse cx="1508.9" cy="504.3" rx="7.5" ry="7.9" transform="rotate(0 1508.9 504.3)" fill="url(#vesG)" stroke="#7e7e7e" stroke-width="1.5"/>
<ellipse cx="1527" cy="491.2" rx="14.5" ry="11.9" transform="rotate(0 1527 491.2)" fill="url(#vesG)" stroke="#7e7e7e" stroke-width="1.5"/>
<ellipse cx="1552.1" cy="483.8" rx="9.6" ry="10.8" transform="rotate(0 1552.1 483.8)" fill="url(#vesG)" stroke="#7e7e7e" stroke-width="1.5"/>
<ellipse cx="1573.7" cy="491.2" rx="10" ry="9.6" transform="rotate(0 1573.7 491.2)" fill="url(#vesG)" stroke="#7e7e7e" stroke-width="1.5"/>
<ellipse cx="1596.7" cy="494.3" rx="12.6" ry="9.6" transform="rotate(0 1596.7 494.3)" fill="url(#vesG)" stroke="#7e7e7e" stroke-width="1.5"/>
<ellipse cx="1554.4" cy="508.6" rx="14.3" ry="11.4" transform="rotate(0 1554.4 508.6)" fill="url(#vesG)" stroke="#7e7e7e" stroke-width="1.5"/>
<ellipse cx="1579.2" cy="511.8" rx="7" ry="7" transform="rotate(0 1579.2 511.8)" fill="url(#vesG)" stroke="#7e7e7e" stroke-width="1.5"/>
<ellipse cx="1597.6" cy="517.9" rx="11.4" ry="11.4" transform="rotate(0 1597.6 517.9)" fill="url(#vesG)" stroke="#7e7e7e" stroke-width="1.5"/>
<ellipse cx="1523.8" cy="517" rx="9.6" ry="10.5" transform="rotate(0 1523.8 517)" fill="url(#vesG)" stroke="#7e7e7e" stroke-width="1.5"/>
<ellipse cx="1504.9" cy="520.5" rx="7" ry="7" transform="rotate(0 1504.9 520.5)" fill="url(#vesG)" stroke="#7e7e7e" stroke-width="1.5"/>
<ellipse cx="1541.3" cy="524.6" rx="8.7" ry="6.6" transform="rotate(0 1541.3 524.6)" fill="url(#vesG)" stroke="#7e7e7e" stroke-width="1.5"/>
</g>
<g transform="translate(1157.4 662.2)" filter="url(#glow)">
<path d="M0 0 C3.5 -9 6.5 -16.2 11.4 -16.2 C20.5 -16.2 25.5 10.6 36 10.6 C45.5 10.6 54.5 -15.6 63.5 -15.6 C70.5 -15.6 75.5 12.4 82.6 12.4 C89.5 12.4 90.5 -14.4 98.4 -14.4 C105.5 -14.4 110.5 -2 114 5.8 Z" fill="url(#waveG)" clip-path="url(#wclipA)"/>
<path d="M0 0 C3.5 -9 6.5 -16.2 11.4 -16.2 C20.5 -16.2 25.5 10.6 36 10.6 C45.5 10.6 54.5 -15.6 63.5 -15.6 C70.5 -15.6 75.5 12.4 82.6 12.4 C89.5 12.4 90.5 -14.4 98.4 -14.4 C105.5 -14.4 110.5 -2 114 5.8 Z" fill="url(#waveG3)" clip-path="url(#wclipB)"/>
<path d="M0.6 0.2 L1.1 -0.9 L1.6 -1.9 L2 -3 L2.5 -4 L2.9 -5 L3.4 -6 L3.8 -6.9 L4.3 -7.8 L4.7 -8.7 L5.1 -9.5 L5.6 -10.2 L6 -11 L6.5 -11.6 L6.9 -12.2 L7.4 -12.8 L7.8 -13.3 L8.3 -13.7 L8.7 -14.1 L9.2 -14.4 L9.6 -14.7 L10 -14.9 L10.5 -15 L10.9 -15.1 L11.3 -15.1 L12.3 -15 L13.1 -14.6 L14 -14.1 L14.9 -13.3 L15.7 -12.4 L16.6 -11.3 L17.5 -10 L18.4 -8.6 L19.3 -7.1 L20.2 -5.5 L21.1 -3.8 L22 -2.2 L22.9 -0.5 L23.9 1.2 L24.8 2.8 L25.8 4.4 L26.9 5.9 L27.9 7.3 L29.1 8.6 L30.3 9.7 L31.5 10.7 L32.9 11.4 L34.4 11.9 L36 12.1 L37.5 11.9 L38.9 11.4 L40.3 10.7 L41.6 9.8 L42.9 8.8 L44.1 7.5 L45.3 6.2 L46.5 4.7 L47.7 3.2 L48.9 1.6 L50 0 L51.2 -1.6 L52.3 -3.3 L53.5 -4.9 L54.6 -6.4 L55.7 -7.9 L56.8 -9.2 L57.9 -10.5 L58.9 -11.5 L60 -12.5 L61 -13.2 L61.9 -13.7 L62.7 -14 L63.5 -14.1 L63.9 -14 L64.4 -13.7 L65 -13.3 L65.7 -12.5 L66.4 -11.6 L67.1 -10.4 L67.9 -9.1 L68.6 -7.7 L69.4 -6.1 L70.1 -4.4 L70.9 -2.7 L71.6 -1 L72.4 0.8 L73.1 2.5 L73.9 4.2 L74.7 5.8 L75.5 7.4 L76.3 8.8 L77.2 10.1 L78.1 11.3 L79 12.3 L80.1 13.1 L81.3 13.6 L82.6 13.9 L83.9 13.6 L85 13.1 L86 12.2 L86.8 11.2 L87.5 10.1 L88.1 8.8 L88.8 7.4 L89.3 5.9 L89.9 4.4 L90.4 2.7 L90.9 1.1 L91.4 -0.6 L91.9 -2.3 L92.4 -3.9 L93 -5.5 L93.5 -7 L94.1 -8.4 L94.7 -9.6 L95.3 -10.7 L95.9 -11.6 L96.6 -12.3 L97.2 -12.8 L97.8 -13.1 L98.4 -13.2 L99.1 -13.2 L99.8 -13 L100.5 -12.8 L101.2 -12.4 L101.9 -12 L102.6 -11.5 L103.3 -10.9 L104 -10.2 L104.7 -9.4 L105.4 -8.5 L106 -7.6 L106.7 -6.7 L107.3 -5.7 L107.9 -4.6 L108.5 -3.6 L109.1 -2.5 L109.7 -1.4 L110.3 -0.3 L110.8 0.8 L111.4 1.9 L111.9 3 L112.4 4.1 L112.9 5.1 L113.5 6 L114.5 5.6 L114.2 4.5 L113.8 3.5 L113.3 2.4 L112.9 1.3 L112.4 0.1 L111.9 -1 L111.4 -2.2 L110.8 -3.3 L110.3 -4.5 L109.7 -5.6 L109.1 -6.7 L108.4 -7.8 L107.8 -8.8 L107.1 -9.8 L106.4 -10.7 L105.6 -11.6 L104.9 -12.5 L104.1 -13.2 L103.2 -13.9 L102.3 -14.4 L101.4 -14.9 L100.5 -15.3 L99.4 -15.5 L98.4 -15.6 L97.1 -15.4 L95.9 -14.9 L94.9 -14.2 L94 -13.2 L93.2 -12.1 L92.5 -10.8 L91.8 -9.4 L91.1 -7.9 L90.5 -6.4 L89.9 -4.7 L89.4 -3.1 L88.8 -1.4 L88.3 0.3 L87.8 1.9 L87.2 3.5 L86.7 5 L86.1 6.4 L85.6 7.6 L85 8.7 L84.5 9.6 L83.9 10.2 L83.4 10.7 L83 10.9 L82.6 10.9 L82.2 10.9 L81.6 10.6 L81 10.1 L80.3 9.4 L79.6 8.4 L78.9 7.3 L78.1 5.9 L77.4 4.5 L76.6 2.9 L75.9 1.3 L75.2 -0.5 L74.4 -2.2 L73.7 -4 L72.9 -5.7 L72.1 -7.4 L71.4 -9 L70.6 -10.6 L69.8 -12 L68.9 -13.3 L68 -14.5 L67.1 -15.5 L66 -16.4 L64.8 -16.9 L63.5 -17.1 L62 -17 L60.6 -16.5 L59.3 -15.8 L58 -14.9 L56.8 -13.8 L55.6 -12.6 L54.4 -11.2 L53.3 -9.8 L52.1 -8.2 L51 -6.6 L49.8 -5 L48.7 -3.4 L47.6 -1.7 L46.4 -0.1 L45.3 1.4 L44.2 2.9 L43.1 4.2 L42 5.5 L40.9 6.6 L39.8 7.5 L38.8 8.2 L37.8 8.7 L36.9 9 L36 9.1 L35 9.1 L34 8.7 L33.1 8.2 L32.1 7.5 L31.1 6.6 L30.1 5.5 L29.1 4.3 L28.1 2.9 L27.2 1.4 L26.2 -0.2 L25.3 -1.8 L24.3 -3.4 L23.4 -5.1 L22.5 -6.8 L21.5 -8.4 L20.5 -9.9 L19.6 -11.4 L18.6 -12.7 L17.5 -14 L16.5 -15.1 L15.3 -16 L14.1 -16.7 L12.8 -17.2 L11.5 -17.3 L10.7 -17.3 L9.9 -17.1 L9.3 -16.9 L8.6 -16.6 L8 -16.2 L7.4 -15.8 L6.8 -15.3 L6.3 -14.7 L5.8 -14.1 L5.3 -13.4 L4.8 -12.7 L4.3 -12 L3.9 -11.2 L3.4 -10.4 L3 -9.5 L2.6 -8.6 L2.2 -7.7 L1.8 -6.7 L1.4 -5.7 L1 -4.6 L0.6 -3.6 L0.2 -2.5 L-0.2 -1.4 L-0.6 -0.2 Z" fill="#2b2c38" stroke="#2b2c38" stroke-width="0.3" stroke-linejoin="round"/>
</g>
<g transform="translate(1204.8 691.8)" filter="url(#glow)">
<path d="M0 0 C3.5 -9 6.5 -16.2 11.4 -16.2 C20.5 -16.2 25.5 10.6 36 10.6 C45.5 10.6 54.5 -15.6 63.5 -15.6 C70.5 -15.6 75.5 12.4 82.6 12.4 C89.5 12.4 90.5 -14.4 98.4 -14.4 C105.5 -14.4 110.5 -2 114 5.8 Z" fill="url(#waveG)" clip-path="url(#wclipA)"/>
<path d="M0 0 C3.5 -9 6.5 -16.2 11.4 -16.2 C20.5 -16.2 25.5 10.6 36 10.6 C45.5 10.6 54.5 -15.6 63.5 -15.6 C70.5 -15.6 75.5 12.4 82.6 12.4 C89.5 12.4 90.5 -14.4 98.4 -14.4 C105.5 -14.4 110.5 -2 114 5.8 Z" fill="url(#waveG3)" clip-path="url(#wclipB)"/>
<path d="M0.6 0.2 L1.1 -0.9 L1.6 -1.9 L2 -3 L2.5 -4 L2.9 -5 L3.4 -6 L3.8 -6.9 L4.3 -7.8 L4.7 -8.7 L5.1 -9.5 L5.6 -10.2 L6 -11 L6.5 -11.6 L6.9 -12.2 L7.4 -12.8 L7.8 -13.3 L8.3 -13.7 L8.7 -14.1 L9.2 -14.4 L9.6 -14.7 L10 -14.9 L10.5 -15 L10.9 -15.1 L11.3 -15.1 L12.3 -15 L13.1 -14.6 L14 -14.1 L14.9 -13.3 L15.7 -12.4 L16.6 -11.3 L17.5 -10 L18.4 -8.6 L19.3 -7.1 L20.2 -5.5 L21.1 -3.8 L22 -2.2 L22.9 -0.5 L23.9 1.2 L24.8 2.8 L25.8 4.4 L26.9 5.9 L27.9 7.3 L29.1 8.6 L30.3 9.7 L31.5 10.7 L32.9 11.4 L34.4 11.9 L36 12.1 L37.5 11.9 L38.9 11.4 L40.3 10.7 L41.6 9.8 L42.9 8.8 L44.1 7.5 L45.3 6.2 L46.5 4.7 L47.7 3.2 L48.9 1.6 L50 0 L51.2 -1.6 L52.3 -3.3 L53.5 -4.9 L54.6 -6.4 L55.7 -7.9 L56.8 -9.2 L57.9 -10.5 L58.9 -11.5 L60 -12.5 L61 -13.2 L61.9 -13.7 L62.7 -14 L63.5 -14.1 L63.9 -14 L64.4 -13.7 L65 -13.3 L65.7 -12.5 L66.4 -11.6 L67.1 -10.4 L67.9 -9.1 L68.6 -7.7 L69.4 -6.1 L70.1 -4.4 L70.9 -2.7 L71.6 -1 L72.4 0.8 L73.1 2.5 L73.9 4.2 L74.7 5.8 L75.5 7.4 L76.3 8.8 L77.2 10.1 L78.1 11.3 L79 12.3 L80.1 13.1 L81.3 13.6 L82.6 13.9 L83.9 13.6 L85 13.1 L86 12.2 L86.8 11.2 L87.5 10.1 L88.1 8.8 L88.8 7.4 L89.3 5.9 L89.9 4.4 L90.4 2.7 L90.9 1.1 L91.4 -0.6 L91.9 -2.3 L92.4 -3.9 L93 -5.5 L93.5 -7 L94.1 -8.4 L94.7 -9.6 L95.3 -10.7 L95.9 -11.6 L96.6 -12.3 L97.2 -12.8 L97.8 -13.1 L98.4 -13.2 L99.1 -13.2 L99.8 -13 L100.5 -12.8 L101.2 -12.4 L101.9 -12 L102.6 -11.5 L103.3 -10.9 L104 -10.2 L104.7 -9.4 L105.4 -8.5 L106 -7.6 L106.7 -6.7 L107.3 -5.7 L107.9 -4.6 L108.5 -3.6 L109.1 -2.5 L109.7 -1.4 L110.3 -0.3 L110.8 0.8 L111.4 1.9 L111.9 3 L112.4 4.1 L112.9 5.1 L113.5 6 L114.5 5.6 L114.2 4.5 L113.8 3.5 L113.3 2.4 L112.9 1.3 L112.4 0.1 L111.9 -1 L111.4 -2.2 L110.8 -3.3 L110.3 -4.5 L109.7 -5.6 L109.1 -6.7 L108.4 -7.8 L107.8 -8.8 L107.1 -9.8 L106.4 -10.7 L105.6 -11.6 L104.9 -12.5 L104.1 -13.2 L103.2 -13.9 L102.3 -14.4 L101.4 -14.9 L100.5 -15.3 L99.4 -15.5 L98.4 -15.6 L97.1 -15.4 L95.9 -14.9 L94.9 -14.2 L94 -13.2 L93.2 -12.1 L92.5 -10.8 L91.8 -9.4 L91.1 -7.9 L90.5 -6.4 L89.9 -4.7 L89.4 -3.1 L88.8 -1.4 L88.3 0.3 L87.8 1.9 L87.2 3.5 L86.7 5 L86.1 6.4 L85.6 7.6 L85 8.7 L84.5 9.6 L83.9 10.2 L83.4 10.7 L83 10.9 L82.6 10.9 L82.2 10.9 L81.6 10.6 L81 10.1 L80.3 9.4 L79.6 8.4 L78.9 7.3 L78.1 5.9 L77.4 4.5 L76.6 2.9 L75.9 1.3 L75.2 -0.5 L74.4 -2.2 L73.7 -4 L72.9 -5.7 L72.1 -7.4 L71.4 -9 L70.6 -10.6 L69.8 -12 L68.9 -13.3 L68 -14.5 L67.1 -15.5 L66 -16.4 L64.8 -16.9 L63.5 -17.1 L62 -17 L60.6 -16.5 L59.3 -15.8 L58 -14.9 L56.8 -13.8 L55.6 -12.6 L54.4 -11.2 L53.3 -9.8 L52.1 -8.2 L51 -6.6 L49.8 -5 L48.7 -3.4 L47.6 -1.7 L46.4 -0.1 L45.3 1.4 L44.2 2.9 L43.1 4.2 L42 5.5 L40.9 6.6 L39.8 7.5 L38.8 8.2 L37.8 8.7 L36.9 9 L36 9.1 L35 9.1 L34 8.7 L33.1 8.2 L32.1 7.5 L31.1 6.6 L30.1 5.5 L29.1 4.3 L28.1 2.9 L27.2 1.4 L26.2 -0.2 L25.3 -1.8 L24.3 -3.4 L23.4 -5.1 L22.5 -6.8 L21.5 -8.4 L20.5 -9.9 L19.6 -11.4 L18.6 -12.7 L17.5 -14 L16.5 -15.1 L15.3 -16 L14.1 -16.7 L12.8 -17.2 L11.5 -17.3 L10.7 -17.3 L9.9 -17.1 L9.3 -16.9 L8.6 -16.6 L8 -16.2 L7.4 -15.8 L6.8 -15.3 L6.3 -14.7 L5.8 -14.1 L5.3 -13.4 L4.8 -12.7 L4.3 -12 L3.9 -11.2 L3.4 -10.4 L3 -9.5 L2.6 -8.6 L2.2 -7.7 L1.8 -6.7 L1.4 -5.7 L1 -4.6 L0.6 -3.6 L0.2 -2.5 L-0.2 -1.4 L-0.6 -0.2 Z" fill="#2b2c38" stroke="#2b2c38" stroke-width="0.3" stroke-linejoin="round"/>
</g>
<g transform="translate(1119.3 715.5)" filter="url(#glow)">
<path d="M0 0 C3.5 -9 6.5 -16.2 11.4 -16.2 C20.5 -16.2 25.5 10.6 36 10.6 C45.5 10.6 54.5 -15.6 63.5 -15.6 C70.5 -15.6 75.5 12.4 82.6 12.4 C89.5 12.4 90.5 -14.4 98.4 -14.4 C105.5 -14.4 110.5 -2 114 5.8 Z" fill="url(#waveG)" clip-path="url(#wclipA)"/>
<path d="M0 0 C3.5 -9 6.5 -16.2 11.4 -16.2 C20.5 -16.2 25.5 10.6 36 10.6 C45.5 10.6 54.5 -15.6 63.5 -15.6 C70.5 -15.6 75.5 12.4 82.6 12.4 C89.5 12.4 90.5 -14.4 98.4 -14.4 C105.5 -14.4 110.5 -2 114 5.8 Z" fill="url(#waveG3)" clip-path="url(#wclipB)"/>
<path d="M0.6 0.2 L1.1 -0.9 L1.6 -1.9 L2 -3 L2.5 -4 L2.9 -5 L3.4 -6 L3.8 -6.9 L4.3 -7.8 L4.7 -8.7 L5.1 -9.5 L5.6 -10.2 L6 -11 L6.5 -11.6 L6.9 -12.2 L7.4 -12.8 L7.8 -13.3 L8.3 -13.7 L8.7 -14.1 L9.2 -14.4 L9.6 -14.7 L10 -14.9 L10.5 -15 L10.9 -15.1 L11.3 -15.1 L12.3 -15 L13.1 -14.6 L14 -14.1 L14.9 -13.3 L15.7 -12.4 L16.6 -11.3 L17.5 -10 L18.4 -8.6 L19.3 -7.1 L20.2 -5.5 L21.1 -3.8 L22 -2.2 L22.9 -0.5 L23.9 1.2 L24.8 2.8 L25.8 4.4 L26.9 5.9 L27.9 7.3 L29.1 8.6 L30.3 9.7 L31.5 10.7 L32.9 11.4 L34.4 11.9 L36 12.1 L37.5 11.9 L38.9 11.4 L40.3 10.7 L41.6 9.8 L42.9 8.8 L44.1 7.5 L45.3 6.2 L46.5 4.7 L47.7 3.2 L48.9 1.6 L50 0 L51.2 -1.6 L52.3 -3.3 L53.5 -4.9 L54.6 -6.4 L55.7 -7.9 L56.8 -9.2 L57.9 -10.5 L58.9 -11.5 L60 -12.5 L61 -13.2 L61.9 -13.7 L62.7 -14 L63.5 -14.1 L63.9 -14 L64.4 -13.7 L65 -13.3 L65.7 -12.5 L66.4 -11.6 L67.1 -10.4 L67.9 -9.1 L68.6 -7.7 L69.4 -6.1 L70.1 -4.4 L70.9 -2.7 L71.6 -1 L72.4 0.8 L73.1 2.5 L73.9 4.2 L74.7 5.8 L75.5 7.4 L76.3 8.8 L77.2 10.1 L78.1 11.3 L79 12.3 L80.1 13.1 L81.3 13.6 L82.6 13.9 L83.9 13.6 L85 13.1 L86 12.2 L86.8 11.2 L87.5 10.1 L88.1 8.8 L88.8 7.4 L89.3 5.9 L89.9 4.4 L90.4 2.7 L90.9 1.1 L91.4 -0.6 L91.9 -2.3 L92.4 -3.9 L93 -5.5 L93.5 -7 L94.1 -8.4 L94.7 -9.6 L95.3 -10.7 L95.9 -11.6 L96.6 -12.3 L97.2 -12.8 L97.8 -13.1 L98.4 -13.2 L99.1 -13.2 L99.8 -13 L100.5 -12.8 L101.2 -12.4 L101.9 -12 L102.6 -11.5 L103.3 -10.9 L104 -10.2 L104.7 -9.4 L105.4 -8.5 L106 -7.6 L106.7 -6.7 L107.3 -5.7 L107.9 -4.6 L108.5 -3.6 L109.1 -2.5 L109.7 -1.4 L110.3 -0.3 L110.8 0.8 L111.4 1.9 L111.9 3 L112.4 4.1 L112.9 5.1 L113.5 6 L114.5 5.6 L114.2 4.5 L113.8 3.5 L113.3 2.4 L112.9 1.3 L112.4 0.1 L111.9 -1 L111.4 -2.2 L110.8 -3.3 L110.3 -4.5 L109.7 -5.6 L109.1 -6.7 L108.4 -7.8 L107.8 -8.8 L107.1 -9.8 L106.4 -10.7 L105.6 -11.6 L104.9 -12.5 L104.1 -13.2 L103.2 -13.9 L102.3 -14.4 L101.4 -14.9 L100.5 -15.3 L99.4 -15.5 L98.4 -15.6 L97.1 -15.4 L95.9 -14.9 L94.9 -14.2 L94 -13.2 L93.2 -12.1 L92.5 -10.8 L91.8 -9.4 L91.1 -7.9 L90.5 -6.4 L89.9 -4.7 L89.4 -3.1 L88.8 -1.4 L88.3 0.3 L87.8 1.9 L87.2 3.5 L86.7 5 L86.1 6.4 L85.6 7.6 L85 8.7 L84.5 9.6 L83.9 10.2 L83.4 10.7 L83 10.9 L82.6 10.9 L82.2 10.9 L81.6 10.6 L81 10.1 L80.3 9.4 L79.6 8.4 L78.9 7.3 L78.1 5.9 L77.4 4.5 L76.6 2.9 L75.9 1.3 L75.2 -0.5 L74.4 -2.2 L73.7 -4 L72.9 -5.7 L72.1 -7.4 L71.4 -9 L70.6 -10.6 L69.8 -12 L68.9 -13.3 L68 -14.5 L67.1 -15.5 L66 -16.4 L64.8 -16.9 L63.5 -17.1 L62 -17 L60.6 -16.5 L59.3 -15.8 L58 -14.9 L56.8 -13.8 L55.6 -12.6 L54.4 -11.2 L53.3 -9.8 L52.1 -8.2 L51 -6.6 L49.8 -5 L48.7 -3.4 L47.6 -1.7 L46.4 -0.1 L45.3 1.4 L44.2 2.9 L43.1 4.2 L42 5.5 L40.9 6.6 L39.8 7.5 L38.8 8.2 L37.8 8.7 L36.9 9 L36 9.1 L35 9.1 L34 8.7 L33.1 8.2 L32.1 7.5 L31.1 6.6 L30.1 5.5 L29.1 4.3 L28.1 2.9 L27.2 1.4 L26.2 -0.2 L25.3 -1.8 L24.3 -3.4 L23.4 -5.1 L22.5 -6.8 L21.5 -8.4 L20.5 -9.9 L19.6 -11.4 L18.6 -12.7 L17.5 -14 L16.5 -15.1 L15.3 -16 L14.1 -16.7 L12.8 -17.2 L11.5 -17.3 L10.7 -17.3 L9.9 -17.1 L9.3 -16.9 L8.6 -16.6 L8 -16.2 L7.4 -15.8 L6.8 -15.3 L6.3 -14.7 L5.8 -14.1 L5.3 -13.4 L4.8 -12.7 L4.3 -12 L3.9 -11.2 L3.4 -10.4 L3 -9.5 L2.6 -8.6 L2.2 -7.7 L1.8 -6.7 L1.4 -5.7 L1 -4.6 L0.6 -3.6 L0.2 -2.5 L-0.2 -1.4 L-0.6 -0.2 Z" fill="#2b2c38" stroke="#2b2c38" stroke-width="0.3" stroke-linejoin="round"/>
</g>
<g transform="translate(1249.7 728.2)" filter="url(#glow)">
<path d="M0 0 C3.5 -9 6.5 -16.2 11.4 -16.2 C20.5 -16.2 25.5 10.6 36 10.6 C45.5 10.6 54.5 -15.6 63.5 -15.6 C70.5 -15.6 75.5 12.4 82.6 12.4 C89.5 12.4 90.5 -14.4 98.4 -14.4 C105.5 -14.4 110.5 -2 114 5.8 Z" fill="url(#waveG)" clip-path="url(#wclipA)"/>
<path d="M0 0 C3.5 -9 6.5 -16.2 11.4 -16.2 C20.5 -16.2 25.5 10.6 36 10.6 C45.5 10.6 54.5 -15.6 63.5 -15.6 C70.5 -15.6 75.5 12.4 82.6 12.4 C89.5 12.4 90.5 -14.4 98.4 -14.4 C105.5 -14.4 110.5 -2 114 5.8 Z" fill="url(#waveG3)" clip-path="url(#wclipB)"/>
<path d="M0.6 0.2 L1.1 -0.9 L1.6 -1.9 L2 -3 L2.5 -4 L2.9 -5 L3.4 -6 L3.8 -6.9 L4.3 -7.8 L4.7 -8.7 L5.1 -9.5 L5.6 -10.2 L6 -11 L6.5 -11.6 L6.9 -12.2 L7.4 -12.8 L7.8 -13.3 L8.3 -13.7 L8.7 -14.1 L9.2 -14.4 L9.6 -14.7 L10 -14.9 L10.5 -15 L10.9 -15.1 L11.3 -15.1 L12.3 -15 L13.1 -14.6 L14 -14.1 L14.9 -13.3 L15.7 -12.4 L16.6 -11.3 L17.5 -10 L18.4 -8.6 L19.3 -7.1 L20.2 -5.5 L21.1 -3.8 L22 -2.2 L22.9 -0.5 L23.9 1.2 L24.8 2.8 L25.8 4.4 L26.9 5.9 L27.9 7.3 L29.1 8.6 L30.3 9.7 L31.5 10.7 L32.9 11.4 L34.4 11.9 L36 12.1 L37.5 11.9 L38.9 11.4 L40.3 10.7 L41.6 9.8 L42.9 8.8 L44.1 7.5 L45.3 6.2 L46.5 4.7 L47.7 3.2 L48.9 1.6 L50 0 L51.2 -1.6 L52.3 -3.3 L53.5 -4.9 L54.6 -6.4 L55.7 -7.9 L56.8 -9.2 L57.9 -10.5 L58.9 -11.5 L60 -12.5 L61 -13.2 L61.9 -13.7 L62.7 -14 L63.5 -14.1 L63.9 -14 L64.4 -13.7 L65 -13.3 L65.7 -12.5 L66.4 -11.6 L67.1 -10.4 L67.9 -9.1 L68.6 -7.7 L69.4 -6.1 L70.1 -4.4 L70.9 -2.7 L71.6 -1 L72.4 0.8 L73.1 2.5 L73.9 4.2 L74.7 5.8 L75.5 7.4 L76.3 8.8 L77.2 10.1 L78.1 11.3 L79 12.3 L80.1 13.1 L81.3 13.6 L82.6 13.9 L83.9 13.6 L85 13.1 L86 12.2 L86.8 11.2 L87.5 10.1 L88.1 8.8 L88.8 7.4 L89.3 5.9 L89.9 4.4 L90.4 2.7 L90.9 1.1 L91.4 -0.6 L91.9 -2.3 L92.4 -3.9 L93 -5.5 L93.5 -7 L94.1 -8.4 L94.7 -9.6 L95.3 -10.7 L95.9 -11.6 L96.6 -12.3 L97.2 -12.8 L97.8 -13.1 L98.4 -13.2 L99.1 -13.2 L99.8 -13 L100.5 -12.8 L101.2 -12.4 L101.9 -12 L102.6 -11.5 L103.3 -10.9 L104 -10.2 L104.7 -9.4 L105.4 -8.5 L106 -7.6 L106.7 -6.7 L107.3 -5.7 L107.9 -4.6 L108.5 -3.6 L109.1 -2.5 L109.7 -1.4 L110.3 -0.3 L110.8 0.8 L111.4 1.9 L111.9 3 L112.4 4.1 L112.9 5.1 L113.5 6 L114.5 5.6 L114.2 4.5 L113.8 3.5 L113.3 2.4 L112.9 1.3 L112.4 0.1 L111.9 -1 L111.4 -2.2 L110.8 -3.3 L110.3 -4.5 L109.7 -5.6 L109.1 -6.7 L108.4 -7.8 L107.8 -8.8 L107.1 -9.8 L106.4 -10.7 L105.6 -11.6 L104.9 -12.5 L104.1 -13.2 L103.2 -13.9 L102.3 -14.4 L101.4 -14.9 L100.5 -15.3 L99.4 -15.5 L98.4 -15.6 L97.1 -15.4 L95.9 -14.9 L94.9 -14.2 L94 -13.2 L93.2 -12.1 L92.5 -10.8 L91.8 -9.4 L91.1 -7.9 L90.5 -6.4 L89.9 -4.7 L89.4 -3.1 L88.8 -1.4 L88.3 0.3 L87.8 1.9 L87.2 3.5 L86.7 5 L86.1 6.4 L85.6 7.6 L85 8.7 L84.5 9.6 L83.9 10.2 L83.4 10.7 L83 10.9 L82.6 10.9 L82.2 10.9 L81.6 10.6 L81 10.1 L80.3 9.4 L79.6 8.4 L78.9 7.3 L78.1 5.9 L77.4 4.5 L76.6 2.9 L75.9 1.3 L75.2 -0.5 L74.4 -2.2 L73.7 -4 L72.9 -5.7 L72.1 -7.4 L71.4 -9 L70.6 -10.6 L69.8 -12 L68.9 -13.3 L68 -14.5 L67.1 -15.5 L66 -16.4 L64.8 -16.9 L63.5 -17.1 L62 -17 L60.6 -16.5 L59.3 -15.8 L58 -14.9 L56.8 -13.8 L55.6 -12.6 L54.4 -11.2 L53.3 -9.8 L52.1 -8.2 L51 -6.6 L49.8 -5 L48.7 -3.4 L47.6 -1.7 L46.4 -0.1 L45.3 1.4 L44.2 2.9 L43.1 4.2 L42 5.5 L40.9 6.6 L39.8 7.5 L38.8 8.2 L37.8 8.7 L36.9 9 L36 9.1 L35 9.1 L34 8.7 L33.1 8.2 L32.1 7.5 L31.1 6.6 L30.1 5.5 L29.1 4.3 L28.1 2.9 L27.2 1.4 L26.2 -0.2 L25.3 -1.8 L24.3 -3.4 L23.4 -5.1 L22.5 -6.8 L21.5 -8.4 L20.5 -9.9 L19.6 -11.4 L18.6 -12.7 L17.5 -14 L16.5 -15.1 L15.3 -16 L14.1 -16.7 L12.8 -17.2 L11.5 -17.3 L10.7 -17.3 L9.9 -17.1 L9.3 -16.9 L8.6 -16.6 L8 -16.2 L7.4 -15.8 L6.8 -15.3 L6.3 -14.7 L5.8 -14.1 L5.3 -13.4 L4.8 -12.7 L4.3 -12 L3.9 -11.2 L3.4 -10.4 L3 -9.5 L2.6 -8.6 L2.2 -7.7 L1.8 -6.7 L1.4 -5.7 L1 -4.6 L0.6 -3.6 L0.2 -2.5 L-0.2 -1.4 L-0.6 -0.2 Z" fill="#2b2c38" stroke="#2b2c38" stroke-width="0.3" stroke-linejoin="round"/>
</g>
<g transform="translate(1165 756.1)" filter="url(#glow)">
<path d="M0 0 C3.5 -9 6.5 -16.2 11.4 -16.2 C20.5 -16.2 25.5 10.6 36 10.6 C45.5 10.6 54.5 -15.6 63.5 -15.6 C70.5 -15.6 75.5 12.4 82.6 12.4 C89.5 12.4 90.5 -14.4 98.4 -14.4 C105.5 -14.4 110.5 -2 114 5.8 Z" fill="url(#waveG)" clip-path="url(#wclipA)"/>
<path d="M0 0 C3.5 -9 6.5 -16.2 11.4 -16.2 C20.5 -16.2 25.5 10.6 36 10.6 C45.5 10.6 54.5 -15.6 63.5 -15.6 C70.5 -15.6 75.5 12.4 82.6 12.4 C89.5 12.4 90.5 -14.4 98.4 -14.4 C105.5 -14.4 110.5 -2 114 5.8 Z" fill="url(#waveG3)" clip-path="url(#wclipB)"/>
<path d="M0.6 0.2 L1.1 -0.9 L1.6 -1.9 L2 -3 L2.5 -4 L2.9 -5 L3.4 -6 L3.8 -6.9 L4.3 -7.8 L4.7 -8.7 L5.1 -9.5 L5.6 -10.2 L6 -11 L6.5 -11.6 L6.9 -12.2 L7.4 -12.8 L7.8 -13.3 L8.3 -13.7 L8.7 -14.1 L9.2 -14.4 L9.6 -14.7 L10 -14.9 L10.5 -15 L10.9 -15.1 L11.3 -15.1 L12.3 -15 L13.1 -14.6 L14 -14.1 L14.9 -13.3 L15.7 -12.4 L16.6 -11.3 L17.5 -10 L18.4 -8.6 L19.3 -7.1 L20.2 -5.5 L21.1 -3.8 L22 -2.2 L22.9 -0.5 L23.9 1.2 L24.8 2.8 L25.8 4.4 L26.9 5.9 L27.9 7.3 L29.1 8.6 L30.3 9.7 L31.5 10.7 L32.9 11.4 L34.4 11.9 L36 12.1 L37.5 11.9 L38.9 11.4 L40.3 10.7 L41.6 9.8 L42.9 8.8 L44.1 7.5 L45.3 6.2 L46.5 4.7 L47.7 3.2 L48.9 1.6 L50 0 L51.2 -1.6 L52.3 -3.3 L53.5 -4.9 L54.6 -6.4 L55.7 -7.9 L56.8 -9.2 L57.9 -10.5 L58.9 -11.5 L60 -12.5 L61 -13.2 L61.9 -13.7 L62.7 -14 L63.5 -14.1 L63.9 -14 L64.4 -13.7 L65 -13.3 L65.7 -12.5 L66.4 -11.6 L67.1 -10.4 L67.9 -9.1 L68.6 -7.7 L69.4 -6.1 L70.1 -4.4 L70.9 -2.7 L71.6 -1 L72.4 0.8 L73.1 2.5 L73.9 4.2 L74.7 5.8 L75.5 7.4 L76.3 8.8 L77.2 10.1 L78.1 11.3 L79 12.3 L80.1 13.1 L81.3 13.6 L82.6 13.9 L83.9 13.6 L85 13.1 L86 12.2 L86.8 11.2 L87.5 10.1 L88.1 8.8 L88.8 7.4 L89.3 5.9 L89.9 4.4 L90.4 2.7 L90.9 1.1 L91.4 -0.6 L91.9 -2.3 L92.4 -3.9 L93 -5.5 L93.5 -7 L94.1 -8.4 L94.7 -9.6 L95.3 -10.7 L95.9 -11.6 L96.6 -12.3 L97.2 -12.8 L97.8 -13.1 L98.4 -13.2 L99.1 -13.2 L99.8 -13 L100.5 -12.8 L101.2 -12.4 L101.9 -12 L102.6 -11.5 L103.3 -10.9 L104 -10.2 L104.7 -9.4 L105.4 -8.5 L106 -7.6 L106.7 -6.7 L107.3 -5.7 L107.9 -4.6 L108.5 -3.6 L109.1 -2.5 L109.7 -1.4 L110.3 -0.3 L110.8 0.8 L111.4 1.9 L111.9 3 L112.4 4.1 L112.9 5.1 L113.5 6 L114.5 5.6 L114.2 4.5 L113.8 3.5 L113.3 2.4 L112.9 1.3 L112.4 0.1 L111.9 -1 L111.4 -2.2 L110.8 -3.3 L110.3 -4.5 L109.7 -5.6 L109.1 -6.7 L108.4 -7.8 L107.8 -8.8 L107.1 -9.8 L106.4 -10.7 L105.6 -11.6 L104.9 -12.5 L104.1 -13.2 L103.2 -13.9 L102.3 -14.4 L101.4 -14.9 L100.5 -15.3 L99.4 -15.5 L98.4 -15.6 L97.1 -15.4 L95.9 -14.9 L94.9 -14.2 L94 -13.2 L93.2 -12.1 L92.5 -10.8 L91.8 -9.4 L91.1 -7.9 L90.5 -6.4 L89.9 -4.7 L89.4 -3.1 L88.8 -1.4 L88.3 0.3 L87.8 1.9 L87.2 3.5 L86.7 5 L86.1 6.4 L85.6 7.6 L85 8.7 L84.5 9.6 L83.9 10.2 L83.4 10.7 L83 10.9 L82.6 10.9 L82.2 10.9 L81.6 10.6 L81 10.1 L80.3 9.4 L79.6 8.4 L78.9 7.3 L78.1 5.9 L77.4 4.5 L76.6 2.9 L75.9 1.3 L75.2 -0.5 L74.4 -2.2 L73.7 -4 L72.9 -5.7 L72.1 -7.4 L71.4 -9 L70.6 -10.6 L69.8 -12 L68.9 -13.3 L68 -14.5 L67.1 -15.5 L66 -16.4 L64.8 -16.9 L63.5 -17.1 L62 -17 L60.6 -16.5 L59.3 -15.8 L58 -14.9 L56.8 -13.8 L55.6 -12.6 L54.4 -11.2 L53.3 -9.8 L52.1 -8.2 L51 -6.6 L49.8 -5 L48.7 -3.4 L47.6 -1.7 L46.4 -0.1 L45.3 1.4 L44.2 2.9 L43.1 4.2 L42 5.5 L40.9 6.6 L39.8 7.5 L38.8 8.2 L37.8 8.7 L36.9 9 L36 9.1 L35 9.1 L34 8.7 L33.1 8.2 L32.1 7.5 L31.1 6.6 L30.1 5.5 L29.1 4.3 L28.1 2.9 L27.2 1.4 L26.2 -0.2 L25.3 -1.8 L24.3 -3.4 L23.4 -5.1 L22.5 -6.8 L21.5 -8.4 L20.5 -9.9 L19.6 -11.4 L18.6 -12.7 L17.5 -14 L16.5 -15.1 L15.3 -16 L14.1 -16.7 L12.8 -17.2 L11.5 -17.3 L10.7 -17.3 L9.9 -17.1 L9.3 -16.9 L8.6 -16.6 L8 -16.2 L7.4 -15.8 L6.8 -15.3 L6.3 -14.7 L5.8 -14.1 L5.3 -13.4 L4.8 -12.7 L4.3 -12 L3.9 -11.2 L3.4 -10.4 L3 -9.5 L2.6 -8.6 L2.2 -7.7 L1.8 -6.7 L1.4 -5.7 L1 -4.6 L0.6 -3.6 L0.2 -2.5 L-0.2 -1.4 L-0.6 -0.2 Z" fill="#2b2c38" stroke="#2b2c38" stroke-width="0.3" stroke-linejoin="round"/>
</g>
<g transform="translate(1477 708.6)" filter="url(#glow)">
<path d="M0 0 C3.5 -9 6.5 -16.2 11.4 -16.2 C20.5 -16.2 25.5 10.6 36 10.6 C45.5 10.6 54.5 -15.6 63.5 -15.6 C70.5 -15.6 75.5 12.4 82.6 12.4 C89.5 12.4 90.5 -14.4 98.4 -14.4 C105.5 -14.4 110.5 -2 114 5.8 Z" fill="url(#waveG)" clip-path="url(#wclipA)"/>
<path d="M0 0 C3.5 -9 6.5 -16.2 11.4 -16.2 C20.5 -16.2 25.5 10.6 36 10.6 C45.5 10.6 54.5 -15.6 63.5 -15.6 C70.5 -15.6 75.5 12.4 82.6 12.4 C89.5 12.4 90.5 -14.4 98.4 -14.4 C105.5 -14.4 110.5 -2 114 5.8 Z" fill="url(#waveG3)" clip-path="url(#wclipB)"/>
<path d="M0.6 0.2 L1.1 -0.9 L1.6 -1.9 L2 -3 L2.5 -4 L2.9 -5 L3.4 -6 L3.8 -6.9 L4.3 -7.8 L4.7 -8.7 L5.1 -9.5 L5.6 -10.2 L6 -11 L6.5 -11.6 L6.9 -12.2 L7.4 -12.8 L7.8 -13.3 L8.3 -13.7 L8.7 -14.1 L9.2 -14.4 L9.6 -14.7 L10 -14.9 L10.5 -15 L10.9 -15.1 L11.3 -15.1 L12.3 -15 L13.1 -14.6 L14 -14.1 L14.9 -13.3 L15.7 -12.4 L16.6 -11.3 L17.5 -10 L18.4 -8.6 L19.3 -7.1 L20.2 -5.5 L21.1 -3.8 L22 -2.2 L22.9 -0.5 L23.9 1.2 L24.8 2.8 L25.8 4.4 L26.9 5.9 L27.9 7.3 L29.1 8.6 L30.3 9.7 L31.5 10.7 L32.9 11.4 L34.4 11.9 L36 12.1 L37.5 11.9 L38.9 11.4 L40.3 10.7 L41.6 9.8 L42.9 8.8 L44.1 7.5 L45.3 6.2 L46.5 4.7 L47.7 3.2 L48.9 1.6 L50 0 L51.2 -1.6 L52.3 -3.3 L53.5 -4.9 L54.6 -6.4 L55.7 -7.9 L56.8 -9.2 L57.9 -10.5 L58.9 -11.5 L60 -12.5 L61 -13.2 L61.9 -13.7 L62.7 -14 L63.5 -14.1 L63.9 -14 L64.4 -13.7 L65 -13.3 L65.7 -12.5 L66.4 -11.6 L67.1 -10.4 L67.9 -9.1 L68.6 -7.7 L69.4 -6.1 L70.1 -4.4 L70.9 -2.7 L71.6 -1 L72.4 0.8 L73.1 2.5 L73.9 4.2 L74.7 5.8 L75.5 7.4 L76.3 8.8 L77.2 10.1 L78.1 11.3 L79 12.3 L80.1 13.1 L81.3 13.6 L82.6 13.9 L83.9 13.6 L85 13.1 L86 12.2 L86.8 11.2 L87.5 10.1 L88.1 8.8 L88.8 7.4 L89.3 5.9 L89.9 4.4 L90.4 2.7 L90.9 1.1 L91.4 -0.6 L91.9 -2.3 L92.4 -3.9 L93 -5.5 L93.5 -7 L94.1 -8.4 L94.7 -9.6 L95.3 -10.7 L95.9 -11.6 L96.6 -12.3 L97.2 -12.8 L97.8 -13.1 L98.4 -13.2 L99.1 -13.2 L99.8 -13 L100.5 -12.8 L101.2 -12.4 L101.9 -12 L102.6 -11.5 L103.3 -10.9 L104 -10.2 L104.7 -9.4 L105.4 -8.5 L106 -7.6 L106.7 -6.7 L107.3 -5.7 L107.9 -4.6 L108.5 -3.6 L109.1 -2.5 L109.7 -1.4 L110.3 -0.3 L110.8 0.8 L111.4 1.9 L111.9 3 L112.4 4.1 L112.9 5.1 L113.5 6 L114.5 5.6 L114.2 4.5 L113.8 3.5 L113.3 2.4 L112.9 1.3 L112.4 0.1 L111.9 -1 L111.4 -2.2 L110.8 -3.3 L110.3 -4.5 L109.7 -5.6 L109.1 -6.7 L108.4 -7.8 L107.8 -8.8 L107.1 -9.8 L106.4 -10.7 L105.6 -11.6 L104.9 -12.5 L104.1 -13.2 L103.2 -13.9 L102.3 -14.4 L101.4 -14.9 L100.5 -15.3 L99.4 -15.5 L98.4 -15.6 L97.1 -15.4 L95.9 -14.9 L94.9 -14.2 L94 -13.2 L93.2 -12.1 L92.5 -10.8 L91.8 -9.4 L91.1 -7.9 L90.5 -6.4 L89.9 -4.7 L89.4 -3.1 L88.8 -1.4 L88.3 0.3 L87.8 1.9 L87.2 3.5 L86.7 5 L86.1 6.4 L85.6 7.6 L85 8.7 L84.5 9.6 L83.9 10.2 L83.4 10.7 L83 10.9 L82.6 10.9 L82.2 10.9 L81.6 10.6 L81 10.1 L80.3 9.4 L79.6 8.4 L78.9 7.3 L78.1 5.9 L77.4 4.5 L76.6 2.9 L75.9 1.3 L75.2 -0.5 L74.4 -2.2 L73.7 -4 L72.9 -5.7 L72.1 -7.4 L71.4 -9 L70.6 -10.6 L69.8 -12 L68.9 -13.3 L68 -14.5 L67.1 -15.5 L66 -16.4 L64.8 -16.9 L63.5 -17.1 L62 -17 L60.6 -16.5 L59.3 -15.8 L58 -14.9 L56.8 -13.8 L55.6 -12.6 L54.4 -11.2 L53.3 -9.8 L52.1 -8.2 L51 -6.6 L49.8 -5 L48.7 -3.4 L47.6 -1.7 L46.4 -0.1 L45.3 1.4 L44.2 2.9 L43.1 4.2 L42 5.5 L40.9 6.6 L39.8 7.5 L38.8 8.2 L37.8 8.7 L36.9 9 L36 9.1 L35 9.1 L34 8.7 L33.1 8.2 L32.1 7.5 L31.1 6.6 L30.1 5.5 L29.1 4.3 L28.1 2.9 L27.2 1.4 L26.2 -0.2 L25.3 -1.8 L24.3 -3.4 L23.4 -5.1 L22.5 -6.8 L21.5 -8.4 L20.5 -9.9 L19.6 -11.4 L18.6 -12.7 L17.5 -14 L16.5 -15.1 L15.3 -16 L14.1 -16.7 L12.8 -17.2 L11.5 -17.3 L10.7 -17.3 L9.9 -17.1 L9.3 -16.9 L8.6 -16.6 L8 -16.2 L7.4 -15.8 L6.8 -15.3 L6.3 -14.7 L5.8 -14.1 L5.3 -13.4 L4.8 -12.7 L4.3 -12 L3.9 -11.2 L3.4 -10.4 L3 -9.5 L2.6 -8.6 L2.2 -7.7 L1.8 -6.7 L1.4 -5.7 L1 -4.6 L0.6 -3.6 L0.2 -2.5 L-0.2 -1.4 L-0.6 -0.2 Z" fill="#2b2c38" stroke="#2b2c38" stroke-width="0.3" stroke-linejoin="round"/>
</g>
</svg>
</body></html>
